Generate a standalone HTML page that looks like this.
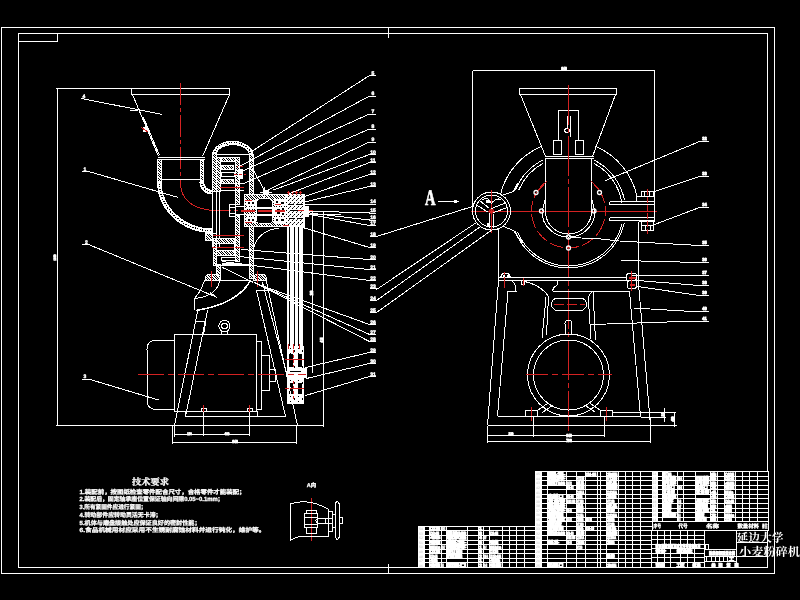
<!DOCTYPE html>
<html lang="zh"><head><meta charset="utf-8"><title>小麦粉碎机</title>
<style>
html,body{margin:0;padding:0;background:#000;width:800px;height:600px;overflow:hidden}
svg{display:block;will-change:transform;transform:translateZ(0)}
text{white-space:pre}
</style></head><body>
<svg width="800" height="600" viewBox="0 0 800 600" shape-rendering="crispEdges" text-rendering="geometricPrecision">
<defs>
<pattern id="h" width="5" height="5" patternUnits="userSpaceOnUse" patternTransform="translate(-.5 -.5)"><rect width="5" height="5" fill="#fff"/><rect x="0" y="0" width="1" height="1" fill="#000"/><rect x="3" y="0" width="1" height="1" fill="#000"/><rect x="1" y="1" width="1" height="1" fill="#000"/><rect x="4" y="1" width="1" height="1" fill="#000"/><rect x="0" y="2" width="1" height="1" fill="#000"/><rect x="2" y="2" width="1" height="1" fill="#000"/><rect x="1" y="3" width="1" height="1" fill="#000"/><rect x="3" y="3" width="1" height="1" fill="#000"/><rect x="2" y="4" width="1" height="1" fill="#000"/><rect x="4" y="4" width="1" height="1" fill="#000"/></pattern>
<pattern id="d" width="4" height="4" patternUnits="userSpaceOnUse" patternTransform="translate(-.5 -.5)"><rect width="4" height="4" fill="#fff"/><rect x="0" y="0" width="1" height="1" fill="#000"/><rect x="2" y="2" width="1" height="1" fill="#000"/><rect x="1" y="3" width="1" height="1" fill="#555"/></pattern>
</defs>
<rect width="800" height="600" fill="#000"/>
<g transform="translate(.5 .5)">
<rect x="1" y="27" width="773" height="546" fill="none" stroke="#fff" stroke-width="1" rx="0"/>
<rect x="18" y="33" width="749" height="534" fill="none" stroke="#fff" stroke-width="1" rx="0"/>
<rect x="18" y="33" width="39" height="8" fill="none" stroke="#fff" stroke-width="1" rx="0"/>
<line x1="388" y1="27" x2="388" y2="37" stroke="#fff" stroke-width="1" />
<line x1="388" y1="563" x2="388" y2="573" stroke="#fff" stroke-width="1" />
<line x1="57" y1="88" x2="57" y2="425" stroke="#fff" stroke-width="1" />
<line x1="55" y1="88" x2="131" y2="88" stroke="#fff" stroke-width="1" />
<line x1="55" y1="425" x2="175" y2="425" stroke="#fff" stroke-width="1" />
<text x="55.5" y="257" font-size="3.4" font-family='"Liberation Sans","Noto Sans CJK SC",sans-serif' font-weight="bold" text-anchor="middle" fill="#fff" textLength="6" lengthAdjust="spacingAndGlyphs" stroke="#fff" stroke-width="0.85" transform="rotate(-90 55.5 257)">1050</text>
<rect x="131" y="88" width="98" height="6" fill="none" stroke="#fff" stroke-width="1" rx="0"/>
<line x1="132" y1="94" x2="158" y2="156" stroke="#fff" stroke-width="1" />
<line x1="229" y1="94" x2="202" y2="156" stroke="#fff" stroke-width="1" />
<line x1="142" y1="117" x2="158" y2="156" stroke="#fff" stroke-width="1" />
<line x1="143" y1="117" x2="159" y2="155" stroke="#fff" stroke-width="1" />
<line x1="81" y1="98" x2="162" y2="114" stroke="#fff" stroke-width="1" />
<line x1="129" y1="110" x2="137" y2="110" stroke="#fff" stroke-width="1" />
<text x="83.5" y="97.5" font-size="5" font-family='"Liberation Sans","Noto Sans CJK SC",sans-serif' font-weight="bold" text-anchor="middle" fill="#fff" stroke="#fff" stroke-width="0.4">4</text>
<rect x="142" y="126" width="5" height="5" fill="#fff"/>
<line x1="141" y1="127" x2="148" y2="132" stroke="#d42222" stroke-width="1" />
<line x1="180" y1="82" x2="180" y2="183" stroke="#d42222" stroke-width="1" stroke-dasharray="22 3 4 3"/>
<path d="M180,183 Q181,207 212,210" fill="none" stroke="#d42222" stroke-width="1" />
<line x1="212" y1="210" x2="312" y2="210" stroke="#d42222" stroke-width="1" stroke-dasharray="18 3 4 3"/>
<line x1="157" y1="157" x2="204" y2="157" stroke="#fff" stroke-width="1" />
<line x1="157" y1="159" x2="204" y2="159" stroke="#fff" stroke-width="1" />
<rect x="157" y="159" width="3.5" height="22" fill="url(#h)" stroke="#fff" stroke-width="1"/>
<rect x="199.5" y="159" width="3.5" height="22" fill="url(#h)" stroke="#fff" stroke-width="1"/>
<line x1="161" y1="179" x2="199" y2="179" stroke="#fff" stroke-width="1" />
<path d="M158.8,181 A53.2,49.2 0 0 0 212,230.2" fill="none" stroke="#fff" stroke-width="3" />
<path d="M158.8,181 A53.2,49.2 0 0 0 212,230.2" fill="none" stroke="#000" stroke-width="1.4" stroke-dasharray="1 1.5"/>
<path d="M157,181 A55,51 0 0 0 212,232" fill="none" stroke="#fff" stroke-width="1" />
<path d="M160.6,181 A51.4,47.4 0 0 0 212,228.4" fill="none" stroke="#fff" stroke-width="1" />
<path d="M201.2,181 A10.8,10.8 0 0 0 212,191.8" fill="none" stroke="#fff" stroke-width="3" />
<path d="M201.2,181 A10.8,10.8 0 0 0 212,191.8" fill="none" stroke="#000" stroke-width="1.4" stroke-dasharray="1 1.5"/>
<path d="M203,181 A9,9 0 0 0 212,190" fill="none" stroke="#fff" stroke-width="1" />
<path d="M199.4,181 A12.6,12.6 0 0 0 212,193.6" fill="none" stroke="#fff" stroke-width="1" />
<rect x="212" y="154" width="4" height="37" fill="url(#h)" stroke="#fff" stroke-width="1"/>
<line x1="212" y1="191" x2="212" y2="246" stroke="#fff" stroke-width="1" />
<line x1="216" y1="191" x2="216" y2="246" stroke="#fff" stroke-width="1" />
<line x1="219" y1="160" x2="219" y2="246" stroke="#fff" stroke-width="1" />
<rect x="213" y="238" width="3" height="27" fill="url(#h)" stroke="#fff" stroke-width="1"/>
<rect x="216" y="264" width="3.5" height="15" fill="url(#h)" stroke="#fff" stroke-width="1"/>
<rect x="249" y="154" width="3.5" height="41" fill="url(#h)" stroke="#fff" stroke-width="1"/>
<rect x="249" y="226" width="3.5" height="52" fill="url(#h)" stroke="#fff" stroke-width="1"/>
<path d="M214,154 A18,12.2 0 0 1 250,154" fill="none" stroke="#fff" stroke-width="3" />
<path d="M214,154 A18,12.2 0 0 1 250,154" fill="none" stroke="#000" stroke-width="1.6" stroke-dasharray="1 1.5"/>
<path d="M212,154 A20.3,14 0 0 1 252.5,154" fill="none" stroke="#fff" stroke-width="1" />
<path d="M215.5,154 A16.8,10.8 0 0 1 249,154" fill="none" stroke="#fff" stroke-width="1" />
<line x1="216" y1="154" x2="248" y2="154" stroke="#fff" stroke-width="1" />
<rect x="216" y="157" width="4" height="34" fill="url(#h)" stroke="#fff" stroke-width="1"/>
<rect x="221" y="157" width="16" height="4" fill="url(#h)" stroke="#fff" stroke-width="1"/>
<rect x="235" y="157" width="4" height="47" fill="url(#h)" stroke="#fff" stroke-width="1"/>
<rect x="221" y="165" width="12" height="4" fill="url(#h)" stroke="#fff" stroke-width="1"/>
<rect x="221" y="172" width="13" height="4" fill="none" stroke="#fff" stroke-width="1" rx="0"/>
<rect x="221" y="179" width="12" height="4" fill="url(#h)" stroke="#fff" stroke-width="1"/>
<line x1="220" y1="183" x2="243" y2="183" stroke="#fff" stroke-width="1" />
<line x1="220" y1="190" x2="243" y2="190" stroke="#fff" stroke-width="1" />
<line x1="219" y1="187" x2="243" y2="187" stroke="#d42222" stroke-width="1" />
<rect x="237" y="168" width="5" height="10" fill="#fff"/>
<line x1="236" y1="166" x2="242" y2="166" stroke="#d42222" stroke-width="1" />
<line x1="233" y1="174" x2="245" y2="174" stroke="#d42222" stroke-width="1" stroke-dasharray="3 2"/>
<rect x="229" y="204" width="6" height="12" fill="none" stroke="#fff" stroke-width="1" rx="0"/>
<line x1="229" y1="207" x2="235" y2="207" stroke="#fff" stroke-width="1" />
<line x1="229" y1="213" x2="235" y2="213" stroke="#fff" stroke-width="1" />
<line x1="235" y1="206" x2="296" y2="206" stroke="#fff" stroke-width="1" />
<line x1="235" y1="214" x2="296" y2="214" stroke="#fff" stroke-width="1" />
<rect x="235" y="215" width="4" height="46" fill="url(#h)" stroke="#fff" stroke-width="1"/>
<line x1="211" y1="235" x2="243" y2="235" stroke="#d42222" stroke-width="1" />
<line x1="211" y1="247" x2="243" y2="247" stroke="#d42222" stroke-width="1" />
<rect x="216" y="238" width="18" height="5" fill="url(#h)" stroke="#fff" stroke-width="1"/>
<rect x="216" y="250" width="18" height="5" fill="url(#h)" stroke="#fff" stroke-width="1"/>
<rect x="216" y="243" width="18" height="7" fill="none" stroke="#fff" stroke-width="1" rx="0"/>
<rect x="221" y="262" width="20" height="3" fill="#fff"/>
<rect x="221" y="257" width="14" height="3" fill="none" stroke="#fff" stroke-width="1" rx="0"/>
<line x1="205" y1="233" x2="216" y2="233" stroke="#fff" stroke-width="1" />
<line x1="205" y1="240" x2="216" y2="240" stroke="#fff" stroke-width="1" />
<rect x="205" y="233" width="7" height="7" fill="url(#h)" stroke="#fff" stroke-width="1"/>
<line x1="213" y1="265" x2="249" y2="265" stroke="#fff" stroke-width="1" />
<rect x="244" y="194" width="41" height="32" fill="url(#h)" stroke="#fff" stroke-width="1"/>
<rect x="256" y="198" width="16" height="25" fill="#000" stroke="#fff" stroke-width="1" rx="4"/>
<rect x="245" y="199" width="10" height="6" fill="#fff"/>
<rect x="245" y="216" width="10" height="6" fill="#fff"/>
<rect x="273" y="198" width="12" height="7" fill="#fff"/>
<rect x="273" y="216" width="12" height="7" fill="#fff"/>
<rect x="247" y="201" width="2" height="2" fill="#000"/>
<rect x="251" y="201" width="2" height="2" fill="#000"/>
<rect x="247" y="218" width="2" height="2" fill="#000"/>
<rect x="251" y="218" width="2" height="2" fill="#000"/>
<rect x="275" y="200" width="2" height="2" fill="#000"/>
<rect x="280" y="201" width="3" height="2" fill="#000"/>
<rect x="275" y="218" width="2" height="2" fill="#000"/>
<rect x="280" y="218" width="3" height="2" fill="#000"/>
<rect x="245" y="206" width="50" height="2" fill="#fff"/>
<rect x="245" y="213" width="50" height="2" fill="#fff"/>
<rect x="272" y="206" width="13" height="9" fill="#fff"/>
<rect x="276" y="208" width="3" height="5" fill="#000"/>
<rect x="281" y="207" width="2" height="2" fill="#000"/>
<rect x="281" y="212" width="2" height="2" fill="#000"/>
<line x1="240" y1="210" x2="300" y2="210" stroke="#d42222" stroke-width="2" stroke-dasharray="14 3"/>
<rect x="285" y="194" width="19" height="32" fill="url(#d)" stroke="#fff"/>
<rect x="287" y="203" width="6" height="1" fill="#000"/>
<rect x="296" y="203" width="6" height="1" fill="#000"/>
<rect x="288" y="217" width="5" height="1" fill="#000"/>
<rect x="296" y="217" width="6" height="1" fill="#000"/>
<rect x="289" y="209" width="10" height="1" fill="#000"/>
<rect x="304" y="205" width="4" height="11" fill="#fff"/>
<line x1="288" y1="190" x2="288" y2="194" stroke="#d42222" stroke-width="1" />
<line x1="286.5" y1="192" x2="289.5" y2="192" stroke="#d42222" stroke-width="1" />
<line x1="292" y1="190" x2="292" y2="194" stroke="#d42222" stroke-width="1" />
<line x1="290.5" y1="192" x2="293.5" y2="192" stroke="#d42222" stroke-width="1" />
<line x1="296" y1="190" x2="296" y2="194" stroke="#d42222" stroke-width="1" />
<line x1="294.5" y1="192" x2="297.5" y2="192" stroke="#d42222" stroke-width="1" />
<line x1="300" y1="190" x2="300" y2="194" stroke="#d42222" stroke-width="1" />
<line x1="298.5" y1="192" x2="301.5" y2="192" stroke="#d42222" stroke-width="1" />
<rect x="262" y="189" width="6" height="5" fill="#fff"/>
<line x1="259" y1="192" x2="271" y2="192" stroke="#fff" stroke-width="1" />
<line x1="264" y1="186" x2="264" y2="198" stroke="#fff" stroke-width="1" />
<line x1="244" y1="200" x2="251" y2="200" stroke="#d42222" stroke-width="1" />
<line x1="244" y1="222" x2="251" y2="222" stroke="#d42222" stroke-width="1" />
<line x1="274" y1="204" x2="280" y2="204" stroke="#d42222" stroke-width="1" />
<line x1="282" y1="225" x2="288" y2="225" stroke="#d42222" stroke-width="1" />
<line x1="297" y1="210" x2="303" y2="210" stroke="#d42222" stroke-width="1" />
<path d="M253,248 A26,26 0 0 1 279,228" fill="none" stroke="#fff" stroke-width="1" />
<line x1="287" y1="226" x2="287" y2="346" stroke="#fff" stroke-width="1" />
<line x1="288" y1="226" x2="288" y2="346" stroke="#fff" stroke-width="1" />
<line x1="290" y1="226" x2="290" y2="346" stroke="#fff" stroke-width="1" />
<line x1="291" y1="226" x2="291" y2="346" stroke="#fff" stroke-width="1" />
<line x1="292" y1="226" x2="292" y2="346" stroke="#fff" stroke-width="1" />
<line x1="293" y1="226" x2="293" y2="346" stroke="#fff" stroke-width="1" />
<line x1="295" y1="226" x2="295" y2="346" stroke="#fff" stroke-width="1" />
<line x1="296" y1="226" x2="296" y2="346" stroke="#fff" stroke-width="1" />
<line x1="297" y1="226" x2="297" y2="346" stroke="#fff" stroke-width="1" />
<line x1="299" y1="226" x2="299" y2="346" stroke="#fff" stroke-width="1" />
<line x1="300" y1="226" x2="300" y2="346" stroke="#fff" stroke-width="1" />
<line x1="301" y1="226" x2="301" y2="346" stroke="#fff" stroke-width="1" />
<line x1="302" y1="226" x2="302" y2="346" stroke="#fff" stroke-width="1" />
<line x1="312" y1="211" x2="312" y2="372" stroke="#fff" stroke-width="1" />
<line x1="323" y1="211" x2="323" y2="426" stroke="#fff" stroke-width="1" />
<line x1="304" y1="211" x2="323" y2="211" stroke="#fff" stroke-width="1" />
<line x1="304" y1="214" x2="340" y2="214" stroke="#fff" stroke-width="1" />
<text x="312.5" y="292.5" font-size="4.4" font-family='"Liberation Sans","Noto Sans CJK SC",sans-serif' font-weight="bold" text-anchor="middle" fill="#fff" textLength="5" lengthAdjust="spacingAndGlyphs" stroke="#fff" stroke-width="0.85" transform="rotate(-90 312.5 292.5)">160</text>
<text x="322.5" y="339.5" font-size="4.2" font-family='"Liberation Sans","Noto Sans CJK SC",sans-serif' font-weight="bold" text-anchor="middle" fill="#fff" textLength="5" lengthAdjust="spacingAndGlyphs" stroke="#fff" stroke-width="0.85" transform="rotate(-90 322.5 339.5)">415</text>
<rect x="286" y="345" width="17" height="58" fill="#fff"/>
<rect x="289" y="347" width="1.5" height="1.5" fill="#000"/>
<rect x="289" y="352" width="1.5" height="1.5" fill="#000"/>
<rect x="293" y="349" width="1.5" height="1.5" fill="#000"/>
<rect x="293" y="350" width="1.5" height="1.5" fill="#000"/>
<rect x="297" y="347" width="1.5" height="1.5" fill="#000"/>
<rect x="297" y="352" width="1.5" height="1.5" fill="#000"/>
<rect x="301" y="349" width="1.5" height="1.5" fill="#000"/>
<rect x="301" y="350" width="1.5" height="1.5" fill="#000"/>
<rect x="289" y="363" width="1.5" height="1.5" fill="#000"/>
<rect x="289" y="368" width="1.5" height="1.5" fill="#000"/>
<rect x="293" y="365" width="1.5" height="1.5" fill="#000"/>
<rect x="293" y="366" width="1.5" height="1.5" fill="#000"/>
<rect x="297" y="363" width="1.5" height="1.5" fill="#000"/>
<rect x="297" y="368" width="1.5" height="1.5" fill="#000"/>
<rect x="301" y="365" width="1.5" height="1.5" fill="#000"/>
<rect x="301" y="366" width="1.5" height="1.5" fill="#000"/>
<rect x="289" y="379" width="1.5" height="1.5" fill="#000"/>
<rect x="289" y="384" width="1.5" height="1.5" fill="#000"/>
<rect x="293" y="381" width="1.5" height="1.5" fill="#000"/>
<rect x="293" y="382" width="1.5" height="1.5" fill="#000"/>
<rect x="297" y="379" width="1.5" height="1.5" fill="#000"/>
<rect x="297" y="384" width="1.5" height="1.5" fill="#000"/>
<rect x="301" y="381" width="1.5" height="1.5" fill="#000"/>
<rect x="301" y="382" width="1.5" height="1.5" fill="#000"/>
<rect x="289" y="395" width="1.5" height="1.5" fill="#000"/>
<rect x="289" y="400" width="1.5" height="1.5" fill="#000"/>
<rect x="293" y="397" width="1.5" height="1.5" fill="#000"/>
<rect x="293" y="398" width="1.5" height="1.5" fill="#000"/>
<rect x="297" y="395" width="1.5" height="1.5" fill="#000"/>
<rect x="297" y="400" width="1.5" height="1.5" fill="#000"/>
<rect x="301" y="397" width="1.5" height="1.5" fill="#000"/>
<rect x="301" y="398" width="1.5" height="1.5" fill="#000"/>
<rect x="288" y="353" width="4.5" height="13" fill="#000"/>
<rect x="297" y="353" width="4.5" height="13" fill="#000"/>
<rect x="288" y="382" width="4.5" height="11" fill="#000"/>
<rect x="297" y="382" width="4.5" height="11" fill="#000"/>
<rect x="286" y="367" width="20" height="10" fill="#fff"/>
<rect x="289" y="370" width="11" height="1" fill="#000"/>
<line x1="284" y1="359" x2="303" y2="359" stroke="#d42222" stroke-width="1" />
<line x1="284" y1="388" x2="303" y2="388" stroke="#d42222" stroke-width="1" />
<line x1="298" y1="374" x2="304" y2="374" stroke="#d42222" stroke-width="1" />
<line x1="293" y1="349" x2="293" y2="366" stroke="#d42222" stroke-width="1" stroke-dasharray="3 2"/>
<line x1="293" y1="380" x2="293" y2="398" stroke="#d42222" stroke-width="1" stroke-dasharray="3 2"/>
<line x1="288" y1="343" x2="288" y2="348" stroke="#d42222" stroke-width="1" />
<line x1="293" y1="343" x2="293" y2="348" stroke="#d42222" stroke-width="1" />
<line x1="299" y1="343" x2="299" y2="348" stroke="#d42222" stroke-width="1" />
<polygon points="204.5,280 204.5,277 207,274 217,274 218.5,277 218.5,280" fill="url(#h)" stroke="#fff" stroke-width="1" />
<polygon points="253,280 253,277 255,274 264,274 266,277 266,280" fill="url(#h)" stroke="#fff" stroke-width="1" />
<line x1="204" y1="280" x2="250" y2="280" stroke="#fff" stroke-width="1" />
<line x1="211" y1="270" x2="211" y2="286" stroke="#d42222" stroke-width="1" />
<line x1="257" y1="270" x2="257" y2="286" stroke="#d42222" stroke-width="1" />
<polyline points="204,280 200,290 194,298 194,309" fill="none" stroke="#fff" stroke-width="1" />
<path d="M250,280 C240,298 220,306 196,310" fill="none" stroke="#fff" stroke-width="1.6" />
<path d="M219,281 C217,290 210,296 195,298" fill="none" stroke="#fff" stroke-width="1" />
<line x1="210" y1="292" x2="217" y2="298" stroke="#fff" stroke-width="1" />
<line x1="197" y1="311" x2="174" y2="425" stroke="#fff" stroke-width="1" />
<line x1="207" y1="310" x2="185" y2="416" stroke="#fff" stroke-width="1" />
<line x1="205" y1="322" x2="203" y2="335" stroke="#fff" stroke-width="1" />
<line x1="195" y1="321" x2="205" y2="321" stroke="#fff" stroke-width="1" />
<line x1="256" y1="290" x2="285" y2="416" stroke="#fff" stroke-width="1" />
<line x1="266" y1="281" x2="297" y2="425" stroke="#fff" stroke-width="1" />
<line x1="262" y1="282" x2="290" y2="388" stroke="#fff" stroke-width="1" />
<line x1="256" y1="290" x2="267" y2="290" stroke="#fff" stroke-width="1" />
<rect x="174" y="334" width="82" height="77" fill="none" stroke="#fff" stroke-width="1" rx="0"/>
<path d="M174,339.5 H156 Q146.5,339.5 146.5,349 V400 Q146.5,409 156,409 H174" fill="none" stroke="#fff" stroke-width="1" />
<rect x="256" y="341" width="5" height="68" fill="none" stroke="#fff" stroke-width="1" rx="0"/>
<rect x="261" y="355" width="8" height="35" fill="none" stroke="#fff" stroke-width="1" rx="0"/>
<rect x="269" y="369" width="6" height="12" fill="none" stroke="#fff" stroke-width="1" rx="0"/>
<circle cx="224" cy="325.5" r="5.6" fill="none" stroke="#fff" stroke-width="1" />
<circle cx="224" cy="325.5" r="2.8" fill="none" stroke="#fff" stroke-width="1" />
<rect x="221" y="331" width="6" height="3" fill="none" stroke="#fff" stroke-width="1" rx="0"/>
<line x1="137" y1="374" x2="305" y2="374" stroke="#d42222" stroke-width="1" stroke-dasharray="26 4 6 4"/>
<rect x="185" y="411" width="72" height="5" fill="none" stroke="#fff" stroke-width="1" rx="0"/>
<line x1="185" y1="416" x2="285" y2="416" stroke="#fff" stroke-width="1" />
<rect x="201" y="408" width="5" height="3" fill="none" stroke="#fff" stroke-width="1" rx="0"/>
<rect x="247" y="408" width="5" height="3" fill="none" stroke="#fff" stroke-width="1" rx="0"/>
<line x1="203" y1="404" x2="203" y2="414" stroke="#d42222" stroke-width="1" />
<line x1="249" y1="404" x2="249" y2="414" stroke="#d42222" stroke-width="1" />
<line x1="174" y1="425" x2="323" y2="425" stroke="#fff" stroke-width="1" />
<line x1="174" y1="425" x2="174" y2="436" stroke="#fff" stroke-width="1" />
<line x1="172" y1="424" x2="172" y2="443" stroke="#fff" stroke-width="1" />
<line x1="296" y1="425" x2="296" y2="443" stroke="#fff" stroke-width="1" />
<line x1="203" y1="411" x2="203" y2="435" stroke="#fff" stroke-width="1" />
<line x1="249" y1="411" x2="249" y2="435" stroke="#fff" stroke-width="1" />
<line x1="174" y1="434" x2="249" y2="434" stroke="#fff" stroke-width="1" />
<line x1="172" y1="442" x2="296" y2="442" stroke="#fff" stroke-width="1" />
<text x="189" y="434" font-size="3.8" font-family='"Liberation Sans","Noto Sans CJK SC",sans-serif' font-weight="bold" text-anchor="middle" fill="#fff" textLength="4.5" lengthAdjust="spacingAndGlyphs" stroke="#fff" stroke-width="0.85">190</text>
<text x="226.5" y="434" font-size="3.8" font-family='"Liberation Sans","Noto Sans CJK SC",sans-serif' font-weight="bold" text-anchor="middle" fill="#fff" textLength="5" lengthAdjust="spacingAndGlyphs" stroke="#fff" stroke-width="0.85">400</text>
<text x="234.5" y="442.5" font-size="4.4" font-family='"Liberation Sans","Noto Sans CJK SC",sans-serif' font-weight="bold" text-anchor="middle" fill="#fff" textLength="5.5" lengthAdjust="spacingAndGlyphs" stroke="#fff" stroke-width="0.85">640</text>
<polyline points="81,171 88,171 178,197" fill="none" stroke="#fff" stroke-width="1" />
<text x="84.5" y="170" font-size="5" font-family='"Liberation Sans","Noto Sans CJK SC",sans-serif' font-weight="bold" text-anchor="middle" fill="#fff" stroke="#fff" stroke-width="0.4">1</text>
<polyline points="81,244 88,244 217,297" fill="none" stroke="#fff" stroke-width="1" />
<text x="86" y="243" font-size="5" font-family='"Liberation Sans","Noto Sans CJK SC",sans-serif' font-weight="bold" text-anchor="middle" fill="#fff" stroke="#fff" stroke-width="0.4">2</text>
<polyline points="81,378.5 88,378.5 158,399.5" fill="none" stroke="#fff" stroke-width="1" />
<text x="84.5" y="377.5" font-size="5" font-family='"Liberation Sans","Noto Sans CJK SC",sans-serif' font-weight="bold" text-anchor="middle" fill="#fff" stroke="#fff" stroke-width="0.4">3</text>
<line x1="472" y1="70" x2="654" y2="70" stroke="#fff" stroke-width="1" />
<line x1="472" y1="70" x2="472" y2="206" stroke="#fff" stroke-width="1" />
<line x1="654" y1="70" x2="654" y2="196" stroke="#fff" stroke-width="1" />
<text x="563.5" y="69.5" font-size="4.4" font-family='"Liberation Sans","Noto Sans CJK SC",sans-serif' font-weight="bold" text-anchor="middle" fill="#fff" textLength="5.5" lengthAdjust="spacingAndGlyphs" stroke="#fff" stroke-width="0.85">940</text>
<rect x="519" y="88" width="97" height="6" fill="none" stroke="#fff" stroke-width="1" rx="0"/>
<line x1="520" y1="94" x2="545" y2="156" stroke="#fff" stroke-width="1" />
<line x1="615" y1="94" x2="592" y2="156" stroke="#fff" stroke-width="1" />
<line x1="544" y1="156" x2="593" y2="156" stroke="#fff" stroke-width="1" />
<line x1="544" y1="158" x2="593" y2="158" stroke="#fff" stroke-width="1" />
<line x1="545" y1="158" x2="545" y2="205" stroke="#fff" stroke-width="1" />
<line x1="591" y1="158" x2="591" y2="205" stroke="#fff" stroke-width="1" />
<polyline points="558,139 558,110 578,110 578,139" fill="none" stroke="#fff" stroke-width="1" />
<line x1="567" y1="115" x2="567" y2="127" stroke="#fff" stroke-width="1" />
<line x1="570" y1="115" x2="570" y2="136" stroke="#fff" stroke-width="1" />
<circle cx="566.5" cy="130" r="2.2" fill="none" stroke="#fff" stroke-width="1" />
<rect x="553" y="140" width="8" height="14" fill="none" stroke="#fff" stroke-width="1" rx="0"/>
<rect x="575" y="140" width="8" height="14" fill="none" stroke="#fff" stroke-width="1" rx="0"/>
<line x1="568" y1="84" x2="568" y2="430" stroke="#d42222" stroke-width="1" stroke-dasharray="40 3 5 3"/>
<line x1="470" y1="210.5" x2="656" y2="210.5" stroke="#d42222" stroke-width="1" />
<path d="M500.08,193.57 A70,70 0 0 1 541.21,145.83" fill="none" stroke="#fff" stroke-width="1" />
<path d="M594.79,145.83 A70,70 0 0 1 636.47,195.95" fill="none" stroke="#fff" stroke-width="1" />
<path d="M515.15,189.15 A57,57 0 0 1 543.01,159.27" fill="none" stroke="#fff" stroke-width="1" />
<path d="M518.29,189.40 A54,54 0 0 1 542.65,162.82" fill="none" stroke="#fff" stroke-width="1" />
<path d="M592.99,159.27 A57,57 0 0 1 623.95,199.62" fill="none" stroke="#fff" stroke-width="1" />
<path d="M593.35,162.82 A54,54 0 0 1 621.34,202.05" fill="none" stroke="#fff" stroke-width="1" />
<path d="M621.37,223.81 A55,55 0 0 1 517.00,231.10" fill="none" stroke="#fff" stroke-width="1" />
<path d="M623.75,222.35 A57,57 0 0 1 514.44,230.00" fill="none" stroke="#fff" stroke-width="1" />
<path d="M545,205 V211 A23,22.5 0 0 0 591,211 V205" fill="none" stroke="#fff" stroke-width="1" />
<path d="M541.5,211 A26.5,25.5 0 0 0 594.5,211" fill="none" stroke="#fff" stroke-width="1" />
<line x1="541.5" y1="211" x2="545" y2="198" stroke="#fff" stroke-width="1" />
<line x1="594.5" y1="211" x2="591" y2="198" stroke="#fff" stroke-width="1" />
<path d="M602.77,223.15 A37,37 0 0 1 533.23,223.15" fill="none" stroke="#d42222" stroke-width="1" stroke-dasharray="14 3"/>
<path d="M533.23,223.15 A37,37 0 0 1 543.24,183.00" fill="none" stroke="#d42222" stroke-width="1" stroke-dasharray="10 3"/>
<path d="M592.76,183.00 A37,37 0 0 1 602.77,223.15" fill="none" stroke="#d42222" stroke-width="1" stroke-dasharray="10 3"/>
<line x1="536" y1="192" x2="546" y2="181" stroke="#d42222" stroke-width="1" />
<line x1="601" y1="192" x2="591" y2="181" stroke="#d42222" stroke-width="1" />
<circle cx="535.5" cy="192" r="2" fill="none" stroke="#fff" stroke-width="1.3" shape-rendering="geometricPrecision"/>
<circle cx="599" cy="192" r="2" fill="none" stroke="#fff" stroke-width="1.3" shape-rendering="geometricPrecision"/>
<circle cx="541" cy="210.5" r="2" fill="none" stroke="#fff" stroke-width="1.3" shape-rendering="geometricPrecision"/>
<circle cx="593.5" cy="210.5" r="2" fill="none" stroke="#fff" stroke-width="1.3" shape-rendering="geometricPrecision"/>
<circle cx="568" cy="236.5" r="2" fill="none" stroke="#fff" stroke-width="1.3" shape-rendering="geometricPrecision"/>
<circle cx="568" cy="247.5" r="2" fill="none" stroke="#fff" stroke-width="1.3" shape-rendering="geometricPrecision"/>
<line x1="571" y1="237" x2="610" y2="239" stroke="#fff" stroke-width="1" />
<circle cx="491" cy="210.5" r="19" fill="none" stroke="#fff" stroke-width="1" />
<circle cx="491" cy="210.5" r="16" fill="none" stroke="#fff" stroke-width="1" />
<circle cx="491" cy="210.5" r="1.8" fill="none" stroke="#d42222" stroke-width="1.5" shape-rendering="geometricPrecision"/>
<line x1="491" y1="189" x2="491" y2="232" stroke="#d42222" stroke-width="1" />
<line x1="491" y1="208" x2="506" y2="202" stroke="#fff" stroke-width="1" />
<line x1="493" y1="212" x2="507" y2="207" stroke="#fff" stroke-width="1" />
<line x1="489" y1="208" x2="479" y2="200" stroke="#fff" stroke-width="1" />
<line x1="488" y1="212" x2="477" y2="205" stroke="#fff" stroke-width="1" />
<line x1="489" y1="212" x2="489" y2="227" stroke="#fff" stroke-width="1" />
<line x1="493" y1="213" x2="493" y2="227" stroke="#fff" stroke-width="1" />
<path d="M482,199 Q488,196 491,203 Q495,197 501,199" fill="none" stroke="#fff" stroke-width="1" />
<rect x="485" y="199" width="4" height="3" fill="#fff"/>
<rect x="486" y="222" width="3" height="4" fill="#fff"/>
<polyline points="501,195 513,191 517,183" fill="none" stroke="#fff" stroke-width="1" />
<polyline points="503,226 513,230 518,237 523,243" fill="none" stroke="#fff" stroke-width="1" />
<line x1="376" y1="236" x2="472" y2="206" stroke="#fff" stroke-width="1" />
<line x1="376" y1="289" x2="476" y2="222" stroke="#fff" stroke-width="1" />
<line x1="376" y1="300" x2="480" y2="226" stroke="#fff" stroke-width="1" />
<line x1="376" y1="312" x2="492" y2="229" stroke="#fff" stroke-width="1" />
<text x="0" y="0" font-size="22" font-family='"Liberation Serif","Noto Serif CJK SC",serif' font-weight="bold" text-anchor="start" fill="#fff" transform="translate(424.5 204.5) scale(.66 1)" stroke="#fff" stroke-width="0.7">A</text>
<line x1="437" y1="201" x2="458" y2="201" stroke="#fff" stroke-width="1" />
<polyline points="454,200 458,201 454,202" fill="none" stroke="#fff" stroke-width="1" />
<line x1="609" y1="201" x2="654" y2="201" stroke="#fff" stroke-width="1" />
<line x1="609" y1="204" x2="654" y2="204" stroke="#fff" stroke-width="1" />
<line x1="609" y1="217" x2="654" y2="217" stroke="#fff" stroke-width="1" />
<line x1="609" y1="220" x2="654" y2="220" stroke="#fff" stroke-width="1" />
<line x1="609" y1="201" x2="609" y2="204" stroke="#fff" stroke-width="1" />
<line x1="609" y1="217" x2="609" y2="220" stroke="#fff" stroke-width="1" />
<line x1="636" y1="196" x2="654" y2="196" stroke="#fff" stroke-width="1" />
<line x1="636" y1="196" x2="636" y2="201" stroke="#fff" stroke-width="1" />
<line x1="654" y1="196" x2="654" y2="221" stroke="#fff" stroke-width="1" />
<line x1="638" y1="221" x2="654" y2="221" stroke="#fff" stroke-width="1" />
<rect x="641" y="191" width="12" height="5" fill="none" stroke="#fff" stroke-width="1" rx="0"/>
<rect x="641" y="221" width="12" height="9" fill="none" stroke="#fff" stroke-width="1" rx="0"/>
<line x1="644" y1="191" x2="644" y2="196" stroke="#fff" stroke-width="1" />
<line x1="649" y1="191" x2="649" y2="196" stroke="#fff" stroke-width="1" />
<line x1="645" y1="225" x2="645" y2="230" stroke="#fff" stroke-width="1" />
<line x1="650" y1="225" x2="650" y2="230" stroke="#fff" stroke-width="1" />
<line x1="641" y1="225" x2="653" y2="225" stroke="#fff" stroke-width="1" />
<line x1="647" y1="188" x2="647" y2="233" stroke="#d42222" stroke-width="1" stroke-dasharray="6 2"/>
<line x1="498" y1="277" x2="627" y2="277" stroke="#fff" stroke-width="1" />
<line x1="498" y1="280" x2="638" y2="280" stroke="#fff" stroke-width="1" />
<line x1="498" y1="277" x2="498" y2="280" stroke="#fff" stroke-width="1" />
<polyline points="500,277 502,273 508,273 510,277" fill="none" stroke="#fff" stroke-width="1" />
<line x1="504" y1="271" x2="504" y2="287" stroke="#d42222" stroke-width="1" />
<rect x="502" y="274" width="2" height="2" fill="#fff"/>
<rect x="506" y="274" width="2" height="2" fill="#fff"/>
<rect x="521" y="280" width="3" height="4" fill="none" stroke="#fff" stroke-width="1" rx="0"/>
<line x1="523" y1="277" x2="523" y2="285" stroke="#d42222" stroke-width="1" />
<rect x="626" y="273" width="10" height="7" fill="#000" stroke="#fff" stroke-width="1" rx="2.5"/>
<rect x="627" y="280" width="9" height="8" fill="#000" stroke="#fff" stroke-width="1" rx="2.5"/>
<line x1="631" y1="270" x2="631" y2="290" stroke="#d42222" stroke-width="1" />
<line x1="628" y1="277" x2="635" y2="277" stroke="#d42222" stroke-width="2" />
<line x1="629" y1="284" x2="634" y2="284" stroke="#d42222" stroke-width="2" />
<line x1="498" y1="228" x2="498" y2="277" stroke="#fff" stroke-width="1" />
<line x1="638" y1="221" x2="638" y2="289" stroke="#fff" stroke-width="1" />
<line x1="498" y1="280" x2="487" y2="425" stroke="#fff" stroke-width="1" />
<line x1="507.5" y1="291" x2="497" y2="416" stroke="#fff" stroke-width="1" />
<line x1="638.5" y1="289" x2="650" y2="425" stroke="#fff" stroke-width="1" />
<line x1="629" y1="291" x2="640" y2="416" stroke="#fff" stroke-width="1" />
<line x1="507" y1="291" x2="516" y2="291" stroke="#fff" stroke-width="1" />
<path d="M512,281 Q516,284 515,291" fill="none" stroke="#fff" stroke-width="1" />
<path d="M524,281 C538,284 546,292 548,296 L546,335" fill="none" stroke="#fff" stroke-width="1" />
<line x1="545.5" y1="297" x2="541.5" y2="338" stroke="#fff" stroke-width="1" />
<path d="M592,291 Q587,295 588,301 L590.5,338" fill="none" stroke="#fff" stroke-width="1" />
<line x1="592.5" y1="291" x2="595" y2="340" stroke="#fff" stroke-width="1" />
<path d="M557,281 Q558,285 553,287 L552,291" fill="none" stroke="#fff" stroke-width="1" />
<line x1="552" y1="291" x2="629" y2="291" stroke="#fff" stroke-width="1" />
<rect x="551" y="297.5" width="35" height="12.5" fill="none" stroke="#fff" stroke-width="1" rx="6.2"/>
<line x1="553" y1="304" x2="584" y2="304" stroke="#d42222" stroke-width="1" stroke-dasharray="10 3"/>
<path d="M564.5,334 V323 Q564.5,319.5 568,319.5 Q571,319.5 571,323 V334" fill="none" stroke="#fff" stroke-width="1" />
<circle cx="568" cy="374.5" r="41" fill="none" stroke="#fff" stroke-width="1" />
<circle cx="568" cy="374.5" r="35" fill="none" stroke="#fff" stroke-width="1" />
<line x1="525" y1="374" x2="611" y2="374" stroke="#d42222" stroke-width="1" stroke-dasharray="22 4 6 4"/>
<rect x="525" y="410" width="12" height="6" fill="none" stroke="#fff" stroke-width="1" rx="0"/>
<rect x="600" y="410" width="12" height="6" fill="none" stroke="#fff" stroke-width="1" rx="0"/>
<line x1="537" y1="410" x2="547" y2="403" stroke="#fff" stroke-width="1" />
<line x1="542" y1="412" x2="552" y2="405" stroke="#fff" stroke-width="1" />
<line x1="600" y1="410" x2="590" y2="403" stroke="#fff" stroke-width="1" />
<line x1="595" y1="412" x2="585" y2="405" stroke="#fff" stroke-width="1" />
<line x1="531" y1="406" x2="531" y2="420" stroke="#d42222" stroke-width="1" />
<line x1="606" y1="406" x2="606" y2="420" stroke="#d42222" stroke-width="1" />
<line x1="497" y1="416" x2="640" y2="416" stroke="#fff" stroke-width="1" />
<line x1="487" y1="425" x2="650" y2="425" stroke="#fff" stroke-width="1" />
<line x1="487" y1="425" x2="487" y2="442" stroke="#fff" stroke-width="1" />
<line x1="650" y1="416" x2="650" y2="442" stroke="#fff" stroke-width="1" />
<line x1="487" y1="435" x2="604" y2="435" stroke="#fff" stroke-width="1" />
<line x1="487" y1="441" x2="650" y2="441" stroke="#fff" stroke-width="1" />
<line x1="533" y1="416" x2="533" y2="436" stroke="#fff" stroke-width="1" />
<line x1="604" y1="416" x2="604" y2="436" stroke="#fff" stroke-width="1" />
<text x="510.5" y="434" font-size="3.8" font-family='"Liberation Sans","Noto Sans CJK SC",sans-serif' font-weight="bold" text-anchor="middle" fill="#fff" textLength="5" lengthAdjust="spacingAndGlyphs" stroke="#fff" stroke-width="0.85">230</text>
<text x="568.5" y="436" font-size="4.4" font-family='"Liberation Sans","Noto Sans CJK SC",sans-serif' font-weight="bold" text-anchor="middle" fill="#fff" textLength="5.5" lengthAdjust="spacingAndGlyphs" stroke="#fff" stroke-width="0.85">640</text>
<text x="568.5" y="441" font-size="4.4" font-family='"Liberation Sans","Noto Sans CJK SC",sans-serif' font-weight="bold" text-anchor="middle" fill="#fff" textLength="5.5" lengthAdjust="spacingAndGlyphs" stroke="#fff" stroke-width="0.85">760</text>
<line x1="612" y1="412" x2="675" y2="412" stroke="#fff" stroke-width="1" />
<line x1="640" y1="417" x2="665" y2="417" stroke="#fff" stroke-width="1" />
<line x1="664" y1="407" x2="664" y2="421" stroke="#fff" stroke-width="1" />
<line x1="674" y1="411" x2="674" y2="426" stroke="#fff" stroke-width="1" />
<line x1="650" y1="425" x2="676" y2="425" stroke="#fff" stroke-width="1" />
<text x="663" y="414" font-size="3.8" font-family='"Liberation Sans","Noto Sans CJK SC",sans-serif' font-weight="bold" text-anchor="middle" fill="#fff" textLength="4" lengthAdjust="spacingAndGlyphs" stroke="#fff" stroke-width="0.85" transform="rotate(-90 663 414)">20</text>
<text x="673" y="418.5" font-size="4" font-family='"Liberation Sans","Noto Sans CJK SC",sans-serif' font-weight="bold" text-anchor="middle" fill="#fff" textLength="5" lengthAdjust="spacingAndGlyphs" stroke="#fff" stroke-width="0.85" transform="rotate(-90 673 418.5)">40</text>
<polyline points="605,180 699,141 708,141" fill="none" stroke="#fff" stroke-width="1" />
<text x="704" y="139.4" font-size="4.4" font-family='"Liberation Sans","Noto Sans CJK SC",sans-serif' font-weight="bold" text-anchor="middle" fill="#fff" textLength="4.5" lengthAdjust="spacingAndGlyphs" stroke="#fff" stroke-width="0.85">32</text>
<polyline points="654,191 699,176 708,176" fill="none" stroke="#fff" stroke-width="1" />
<text x="704" y="174.4" font-size="4.4" font-family='"Liberation Sans","Noto Sans CJK SC",sans-serif' font-weight="bold" text-anchor="middle" fill="#fff" textLength="4.5" lengthAdjust="spacingAndGlyphs" stroke="#fff" stroke-width="0.85">33</text>
<polyline points="654,224 699,207 708,207" fill="none" stroke="#fff" stroke-width="1" />
<text x="704" y="205.4" font-size="4.4" font-family='"Liberation Sans","Noto Sans CJK SC",sans-serif' font-weight="bold" text-anchor="middle" fill="#fff" textLength="4.5" lengthAdjust="spacingAndGlyphs" stroke="#fff" stroke-width="0.85">34</text>
<polyline points="610,240 699,245 708,245" fill="none" stroke="#fff" stroke-width="1" />
<text x="704" y="243.4" font-size="4.4" font-family='"Liberation Sans","Noto Sans CJK SC",sans-serif' font-weight="bold" text-anchor="middle" fill="#fff" textLength="4.5" lengthAdjust="spacingAndGlyphs" stroke="#fff" stroke-width="0.85">35</text>
<polyline points="621,260 699,262 708,262" fill="none" stroke="#fff" stroke-width="1" />
<text x="704" y="260.4" font-size="4.4" font-family='"Liberation Sans","Noto Sans CJK SC",sans-serif' font-weight="bold" text-anchor="middle" fill="#fff" textLength="4.5" lengthAdjust="spacingAndGlyphs" stroke="#fff" stroke-width="0.85">36</text>
<polyline points="631,275 699,275 708,275" fill="none" stroke="#fff" stroke-width="1" />
<text x="704" y="273.4" font-size="4.4" font-family='"Liberation Sans","Noto Sans CJK SC",sans-serif' font-weight="bold" text-anchor="middle" fill="#fff" textLength="4.5" lengthAdjust="spacingAndGlyphs" stroke="#fff" stroke-width="0.85">37</text>
<polyline points="637,280 699,285 708,285" fill="none" stroke="#fff" stroke-width="1" />
<text x="704" y="283.4" font-size="4.4" font-family='"Liberation Sans","Noto Sans CJK SC",sans-serif' font-weight="bold" text-anchor="middle" fill="#fff" textLength="4.5" lengthAdjust="spacingAndGlyphs" stroke="#fff" stroke-width="0.85">38</text>
<polyline points="637,286 699,295 708,295" fill="none" stroke="#fff" stroke-width="1" />
<text x="704" y="293.4" font-size="4.4" font-family='"Liberation Sans","Noto Sans CJK SC",sans-serif' font-weight="bold" text-anchor="middle" fill="#fff" textLength="4.5" lengthAdjust="spacingAndGlyphs" stroke="#fff" stroke-width="0.85">39</text>
<polyline points="633,307.5 692,311 708,311" fill="none" stroke="#fff" stroke-width="1" />
<text x="704" y="309.4" font-size="4.4" font-family='"Liberation Sans","Noto Sans CJK SC",sans-serif' font-weight="bold" text-anchor="middle" fill="#fff" textLength="4.5" lengthAdjust="spacingAndGlyphs" stroke="#fff" stroke-width="0.85">40</text>
<polyline points="591,324 682,321 708,321" fill="none" stroke="#fff" stroke-width="1" />
<text x="704" y="319.4" font-size="4.4" font-family='"Liberation Sans","Noto Sans CJK SC",sans-serif' font-weight="bold" text-anchor="middle" fill="#fff" textLength="4.5" lengthAdjust="spacingAndGlyphs" stroke="#fff" stroke-width="0.85">41</text>
<polyline points="251,151 369,75 375,75" fill="none" stroke="#fff" stroke-width="1" />
<text x="372.5" y="74" font-size="5" font-family='"Liberation Sans","Noto Sans CJK SC",sans-serif' font-weight="bold" text-anchor="middle" fill="#fff" stroke="#fff" stroke-width="0.5">5</text>
<polyline points="238,166.5 369,95.5 375,95.5" fill="none" stroke="#fff" stroke-width="1" />
<text x="372.5" y="94.5" font-size="5" font-family='"Liberation Sans","Noto Sans CJK SC",sans-serif' font-weight="bold" text-anchor="middle" fill="#fff" stroke="#fff" stroke-width="0.5">6</text>
<polyline points="240,171.5 369,113.5 375,113.5" fill="none" stroke="#fff" stroke-width="1" />
<text x="372.5" y="112.5" font-size="5" font-family='"Liberation Sans","Noto Sans CJK SC",sans-serif' font-weight="bold" text-anchor="middle" fill="#fff" stroke="#fff" stroke-width="0.5">7</text>
<polyline points="243,183 369,128.5 375,128.5" fill="none" stroke="#fff" stroke-width="1" />
<text x="372.5" y="127.5" font-size="5" font-family='"Liberation Sans","Noto Sans CJK SC",sans-serif' font-weight="bold" text-anchor="middle" fill="#fff" stroke="#fff" stroke-width="0.5">8</text>
<polyline points="264,191 369,141.5 375,141.5" fill="none" stroke="#fff" stroke-width="1" />
<text x="372.5" y="140.5" font-size="5" font-family='"Liberation Sans","Noto Sans CJK SC",sans-serif' font-weight="bold" text-anchor="middle" fill="#fff" stroke="#fff" stroke-width="0.5">9</text>
<polyline points="273,189.5 369,154 375,154" fill="none" stroke="#fff" stroke-width="1" />
<text x="372.5" y="153" font-size="5" font-family='"Liberation Sans","Noto Sans CJK SC",sans-serif' font-weight="bold" text-anchor="middle" fill="#fff" stroke="#fff" stroke-width="0.5">10</text>
<polyline points="289,193 369,162 375,162" fill="none" stroke="#fff" stroke-width="1" />
<text x="372.5" y="161" font-size="5" font-family='"Liberation Sans","Noto Sans CJK SC",sans-serif' font-weight="bold" text-anchor="middle" fill="#fff" stroke="#fff" stroke-width="0.5">11</text>
<polyline points="304,196 369,174 375,174" fill="none" stroke="#fff" stroke-width="1" />
<text x="372.5" y="173" font-size="5" font-family='"Liberation Sans","Noto Sans CJK SC",sans-serif' font-weight="bold" text-anchor="middle" fill="#fff" stroke="#fff" stroke-width="0.5">12</text>
<polyline points="304,201.5 369,186 375,186" fill="none" stroke="#fff" stroke-width="1" />
<text x="372.5" y="185" font-size="5" font-family='"Liberation Sans","Noto Sans CJK SC",sans-serif' font-weight="bold" text-anchor="middle" fill="#fff" stroke="#fff" stroke-width="0.5">13</text>
<polyline points="304,203.5 369,203.5 375,203.5" fill="none" stroke="#fff" stroke-width="1" />
<text x="372.5" y="202.5" font-size="5" font-family='"Liberation Sans","Noto Sans CJK SC",sans-serif' font-weight="bold" text-anchor="middle" fill="#fff" stroke="#fff" stroke-width="0.5">14</text>
<polyline points="307,210.5 369,212.5 375,212.5" fill="none" stroke="#fff" stroke-width="1" />
<text x="372.5" y="211.5" font-size="5" font-family='"Liberation Sans","Noto Sans CJK SC",sans-serif' font-weight="bold" text-anchor="middle" fill="#fff" stroke="#fff" stroke-width="0.5">15</text>
<polyline points="305,212 369,219.5 375,219.5" fill="none" stroke="#fff" stroke-width="1" />
<text x="372.5" y="218.5" font-size="5" font-family='"Liberation Sans","Noto Sans CJK SC",sans-serif' font-weight="bold" text-anchor="middle" fill="#fff" stroke="#fff" stroke-width="0.5">16</text>
<polyline points="304,213 369,225 375,225" fill="none" stroke="#fff" stroke-width="1" />
<text x="372.5" y="224" font-size="5" font-family='"Liberation Sans","Noto Sans CJK SC",sans-serif' font-weight="bold" text-anchor="middle" fill="#fff" stroke="#fff" stroke-width="0.5">17</text>
<polyline points="369,236 375,236" fill="none" stroke="#fff" stroke-width="1" />
<text x="372.5" y="235" font-size="5" font-family='"Liberation Sans","Noto Sans CJK SC",sans-serif' font-weight="bold" text-anchor="middle" fill="#fff" stroke="#fff" stroke-width="0.5">18</text>
<polyline points="299,226 369,247 375,247" fill="none" stroke="#fff" stroke-width="1" />
<text x="372.5" y="246" font-size="5" font-family='"Liberation Sans","Noto Sans CJK SC",sans-serif' font-weight="bold" text-anchor="middle" fill="#fff" stroke="#fff" stroke-width="0.5">19</text>
<polyline points="241,249 369,259 375,259" fill="none" stroke="#fff" stroke-width="1" />
<text x="372.5" y="258" font-size="5" font-family='"Liberation Sans","Noto Sans CJK SC",sans-serif' font-weight="bold" text-anchor="middle" fill="#fff" stroke="#fff" stroke-width="0.5">20</text>
<polyline points="238,256 369,269 375,269" fill="none" stroke="#fff" stroke-width="1" />
<text x="372.5" y="268" font-size="5" font-family='"Liberation Sans","Noto Sans CJK SC",sans-serif' font-weight="bold" text-anchor="middle" fill="#fff" stroke="#fff" stroke-width="0.5">21</text>
<polyline points="222,261 369,280 375,280" fill="none" stroke="#fff" stroke-width="1" />
<text x="372.5" y="279" font-size="5" font-family='"Liberation Sans","Noto Sans CJK SC",sans-serif' font-weight="bold" text-anchor="middle" fill="#fff" stroke="#fff" stroke-width="0.5">22</text>
<line x1="222" y1="267" x2="253" y2="282" stroke="#fff" stroke-width="1" />
<polyline points="369,288 376,288" fill="none" stroke="#fff" stroke-width="1" />
<text x="372.5" y="287" font-size="5" font-family='"Liberation Sans","Noto Sans CJK SC",sans-serif' font-weight="bold" text-anchor="middle" fill="#fff" stroke="#fff" stroke-width="0.5">23</text>
<polyline points="369,300 376,300" fill="none" stroke="#fff" stroke-width="1" />
<text x="372.5" y="299" font-size="5" font-family='"Liberation Sans","Noto Sans CJK SC",sans-serif' font-weight="bold" text-anchor="middle" fill="#fff" stroke="#fff" stroke-width="0.5">24</text>
<polyline points="369,312 376,312" fill="none" stroke="#fff" stroke-width="1" />
<text x="372.5" y="311" font-size="5" font-family='"Liberation Sans","Noto Sans CJK SC",sans-serif' font-weight="bold" text-anchor="middle" fill="#fff" stroke="#fff" stroke-width="0.5">25</text>
<polyline points="258,284 369,324 375,324" fill="none" stroke="#fff" stroke-width="1" />
<text x="372.5" y="323" font-size="5" font-family='"Liberation Sans","Noto Sans CJK SC",sans-serif' font-weight="bold" text-anchor="middle" fill="#fff" stroke="#fff" stroke-width="0.5">26</text>
<polyline points="256,283 369,334 375,334" fill="none" stroke="#fff" stroke-width="1" />
<text x="372.5" y="333" font-size="5" font-family='"Liberation Sans","Noto Sans CJK SC",sans-serif' font-weight="bold" text-anchor="middle" fill="#fff" stroke="#fff" stroke-width="0.5">27</text>
<polyline points="254,282 369,341 375,341" fill="none" stroke="#fff" stroke-width="1" />
<text x="372.5" y="340" font-size="5" font-family='"Liberation Sans","Noto Sans CJK SC",sans-serif' font-weight="bold" text-anchor="middle" fill="#fff" stroke="#fff" stroke-width="0.5">28</text>
<polyline points="305,367 369,352 375,352" fill="none" stroke="#fff" stroke-width="1" />
<text x="372.5" y="351" font-size="5" font-family='"Liberation Sans","Noto Sans CJK SC",sans-serif' font-weight="bold" text-anchor="middle" fill="#fff" stroke="#fff" stroke-width="0.5">29</text>
<polyline points="306,378 369,363 375,363" fill="none" stroke="#fff" stroke-width="1" />
<text x="372.5" y="362" font-size="5" font-family='"Liberation Sans","Noto Sans CJK SC",sans-serif' font-weight="bold" text-anchor="middle" fill="#fff" stroke="#fff" stroke-width="0.5">30</text>
<polyline points="305,395 369,376 375,376" fill="none" stroke="#fff" stroke-width="1" />
<text x="372.5" y="375" font-size="5" font-family='"Liberation Sans","Noto Sans CJK SC",sans-serif' font-weight="bold" text-anchor="middle" fill="#fff" stroke="#fff" stroke-width="0.5">31</text>
<line x1="252" y1="168" x2="265" y2="192" stroke="#fff" stroke-width="1" />
<text x="311" y="486" font-size="5.5" font-family='"Liberation Sans","Noto Sans CJK SC",sans-serif' font-weight="bold" text-anchor="middle" fill="#fff" stroke="#fff" stroke-width="0.3">A向</text>
<line x1="310.5" y1="497" x2="310.5" y2="540" stroke="#d42222" stroke-width="1" />
<path d="M290,503.5 Q308,497 328,509 V535.5 H302.5 Q296,536 290,539.5 Z" fill="none" stroke="#fff" stroke-width="1" />
<rect x="304" y="513" width="13" height="14" fill="none" stroke="#fff" stroke-width="1" rx="0"/>
<rect x="305.5" y="509.5" width="10.5" height="3.5" fill="none" stroke="#fff" stroke-width="1" rx="0"/>
<rect x="305.5" y="527" width="10.5" height="6" fill="none" stroke="#fff" stroke-width="1" rx="0"/>
<line x1="304" y1="517" x2="317" y2="517" stroke="#fff" stroke-width="1" />
<line x1="304" y1="523.5" x2="317" y2="523.5" stroke="#fff" stroke-width="1" />
<line x1="317" y1="517.5" x2="331" y2="517.5" stroke="#fff" stroke-width="1" />
<line x1="317" y1="523" x2="331" y2="523" stroke="#fff" stroke-width="1" />
<line x1="325" y1="517.5" x2="325" y2="523" stroke="#fff" stroke-width="1" />
<path d="M317,518 L315,520 L317,522.5" fill="none" stroke="#fff" stroke-width="1" />
<rect x="328" y="510.5" width="3.5" height="20" fill="none" stroke="#fff" stroke-width="1" rx="0"/>
<rect x="331.5" y="514" width="3.5" height="13" fill="none" stroke="#fff" stroke-width="1" rx="0"/>
<path d="M335,503 L336.5,500.5 L338.5,503 V537 L336.5,539.5 L335,537 Z" fill="none" stroke="#fff" stroke-width="1" />
<rect x="338.5" y="517" width="3" height="6" fill="none" stroke="#fff" stroke-width="1" rx="0"/>
<text x="150" y="484" font-size="9" font-family='"Liberation Serif","Noto Serif CJK SC",serif' font-weight="bold" text-anchor="middle" fill="#fff" textLength="37" lengthAdjust="spacingAndGlyphs" stroke="#fff" stroke-width="0.3">技术要求</text>
<text x="79" y="493.2" font-size="6" font-family='"Liberation Sans","Noto Sans CJK SC",sans-serif' font-weight="bold" text-anchor="start" fill="#fff" textLength="166" lengthAdjust="spacingAndGlyphs" stroke="#fff" stroke-width="0.3">1.装配前，按图纸检查零件配合尺寸，合格零件才能装配；</text>
<text x="79" y="500.95" font-size="6" font-family='"Liberation Sans","Noto Sans CJK SC",sans-serif' font-weight="bold" text-anchor="start" fill="#fff" textLength="144" lengthAdjust="spacingAndGlyphs" stroke="#fff" stroke-width="0.3">2.装配后，固定轴承座位置保证轴向间隙0.05~0.1mm；</text>
<text x="79" y="508.7" font-size="6" font-family='"Liberation Sans","Noto Sans CJK SC",sans-serif' font-weight="bold" text-anchor="start" fill="#fff" textLength="67" lengthAdjust="spacingAndGlyphs" stroke="#fff" stroke-width="0.3">3.所有紧固件应进行紧固；</text>
<text x="79" y="516.45" font-size="6" font-family='"Liberation Sans","Noto Sans CJK SC",sans-serif' font-weight="bold" text-anchor="start" fill="#fff" textLength="82" lengthAdjust="spacingAndGlyphs" stroke="#fff" stroke-width="0.3">4.转动部件应转动灵活无卡滞；</text>
<text x="79" y="524.2" font-size="6" font-family='"Liberation Sans","Noto Sans CJK SC",sans-serif' font-weight="bold" text-anchor="start" fill="#fff" textLength="121" lengthAdjust="spacingAndGlyphs" stroke="#fff" stroke-width="0.3">5.机体与磨盘接触处应保证良好的密封性能；</text>
<text x="79" y="531.95" font-size="6" font-family='"Liberation Sans","Noto Sans CJK SC",sans-serif' font-weight="bold" text-anchor="start" fill="#fff" textLength="186" lengthAdjust="spacingAndGlyphs" stroke="#fff" stroke-width="0.3">6.食品机械用材应采用不生锈耐腐蚀材料并进行钝化，维护等。</text>
<rect x="534" y="470.6" width="118" height="96.36500000000001" fill="#fff"/>
<text x="537.5" y="474.865" font-size="3.4" font-family='"Liberation Sans","Noto Sans CJK SC",sans-serif' font-weight="normal" text-anchor="middle" fill="#c4c4c4" >45</text>
<rect x="541" y="471.6" width="5" height="3.5650000000000004" fill="#000"/>
<rect x="547" y="471.6" width="18" height="3.5650000000000004" fill="#000"/>
<text x="547.2" y="475.065" font-size="4.8" font-family='"Liberation Sans","Noto Sans CJK SC",sans-serif' font-weight="bold" text-anchor="start" fill="#fff" textLength="17.5" lengthAdjust="spacingAndGlyphs" stroke="#fff" stroke-width="0.9" paint-order="stroke">料斗</text>
<rect x="566" y="471.6" width="9" height="3.5650000000000004" fill="#000"/>
<rect x="576" y="471.6" width="8" height="3.5650000000000004" fill="#000"/>
<rect x="585" y="471.6" width="11" height="3.5650000000000004" fill="#000"/>
<text x="585.2" y="475.065" font-size="4.6" font-family='"Liberation Sans","Noto Sans CJK SC",sans-serif' font-weight="bold" text-anchor="start" fill="#fff" textLength="10.5" lengthAdjust="spacingAndGlyphs" stroke="#fff" stroke-width="0.9" paint-order="stroke">XM-05</text>
<rect x="597" y="471.6" width="2" height="3.5650000000000004" fill="#000"/>
<rect x="600" y="471.6" width="5" height="3.5650000000000004" fill="#000"/>
<rect x="606" y="471.6" width="11" height="3.5650000000000004" fill="#000"/>
<text x="606.2" y="475.065" font-size="4.6" font-family='"Liberation Sans","Noto Sans CJK SC",sans-serif' font-weight="bold" text-anchor="start" fill="#fff" textLength="10.5" lengthAdjust="spacingAndGlyphs" stroke="#fff" stroke-width="0.9" paint-order="stroke">35</text>
<rect x="618" y="471.6" width="6" height="3.5650000000000004" fill="#000"/>
<rect x="625" y="471.6" width="6" height="3.5650000000000004" fill="#000"/>
<rect x="632" y="471.6" width="7" height="3.5650000000000004" fill="#000"/>
<rect x="640" y="471.6" width="11" height="3.5650000000000004" fill="#000"/>
<text x="537.5" y="479.43" font-size="3.4" font-family='"Liberation Sans","Noto Sans CJK SC",sans-serif' font-weight="normal" text-anchor="middle" fill="#c4c4c4" >44</text>
<rect x="541" y="476.165" width="5" height="3.5650000000000004" fill="#000"/>
<rect x="547" y="476.165" width="18" height="3.5650000000000004" fill="#000"/>
<text x="547.2" y="479.63" font-size="4.8" font-family='"Liberation Sans","Noto Sans CJK SC",sans-serif' font-weight="bold" text-anchor="start" fill="#fff" textLength="17.5" lengthAdjust="spacingAndGlyphs" stroke="#fff" stroke-width="0.9" paint-order="stroke">隔环</text>
<rect x="566" y="476.165" width="9" height="3.5650000000000004" fill="#000"/>
<rect x="576" y="476.165" width="8" height="3.5650000000000004" fill="#000"/>
<text x="576.2" y="479.63" font-size="4.6" font-family='"Liberation Sans","Noto Sans CJK SC",sans-serif' font-weight="bold" text-anchor="start" fill="#fff" textLength="7.5" lengthAdjust="spacingAndGlyphs" stroke="#fff" stroke-width="0.9" paint-order="stroke">HT200</text>
<rect x="585" y="476.165" width="11" height="3.5650000000000004" fill="#000"/>
<rect x="597" y="476.165" width="2" height="3.5650000000000004" fill="#000"/>
<rect x="600" y="476.165" width="5" height="3.5650000000000004" fill="#000"/>
<rect x="606" y="476.165" width="11" height="3.5650000000000004" fill="#000"/>
<text x="606.2" y="479.63" font-size="4.6" font-family='"Liberation Sans","Noto Sans CJK SC",sans-serif' font-weight="bold" text-anchor="start" fill="#fff" textLength="10.5" lengthAdjust="spacingAndGlyphs" stroke="#fff" stroke-width="0.9" paint-order="stroke">HT200</text>
<rect x="618" y="476.165" width="6" height="3.5650000000000004" fill="#000"/>
<rect x="625" y="476.165" width="6" height="3.5650000000000004" fill="#000"/>
<rect x="632" y="476.165" width="7" height="3.5650000000000004" fill="#000"/>
<rect x="640" y="476.165" width="11" height="3.5650000000000004" fill="#000"/>
<text x="537.5" y="483.995" font-size="3.4" font-family='"Liberation Sans","Noto Sans CJK SC",sans-serif' font-weight="normal" text-anchor="middle" fill="#c4c4c4" >43</text>
<rect x="541" y="480.73" width="5" height="3.5650000000000004" fill="#000"/>
<rect x="547" y="480.73" width="18" height="3.5650000000000004" fill="#000"/>
<text x="547.2" y="484.195" font-size="4.8" font-family='"Liberation Sans","Noto Sans CJK SC",sans-serif' font-weight="bold" text-anchor="start" fill="#fff" textLength="17.5" lengthAdjust="spacingAndGlyphs" stroke="#fff" stroke-width="0.9" paint-order="stroke">螺钉M6</text>
<rect x="566" y="480.73" width="9" height="3.5650000000000004" fill="#000"/>
<text x="566.2" y="484.195" font-size="4.6" font-family='"Liberation Sans","Noto Sans CJK SC",sans-serif' font-weight="bold" text-anchor="start" fill="#fff" textLength="5.1" lengthAdjust="spacingAndGlyphs" stroke="#fff" stroke-width="0.9" paint-order="stroke">GB5783</text>
<rect x="576" y="480.73" width="8" height="3.5650000000000004" fill="#000"/>
<text x="576.2" y="484.195" font-size="4.6" font-family='"Liberation Sans","Noto Sans CJK SC",sans-serif' font-weight="bold" text-anchor="start" fill="#fff" textLength="7.5" lengthAdjust="spacingAndGlyphs" stroke="#fff" stroke-width="0.9" paint-order="stroke">成品</text>
<rect x="585" y="480.73" width="11" height="3.5650000000000004" fill="#000"/>
<rect x="597" y="480.73" width="2" height="3.5650000000000004" fill="#000"/>
<rect x="600" y="480.73" width="5" height="3.5650000000000004" fill="#000"/>
<rect x="606" y="480.73" width="11" height="3.5650000000000004" fill="#000"/>
<text x="606.2" y="484.195" font-size="4.6" font-family='"Liberation Sans","Noto Sans CJK SC",sans-serif' font-weight="bold" text-anchor="start" fill="#fff" textLength="10.5" lengthAdjust="spacingAndGlyphs" stroke="#fff" stroke-width="0.9" paint-order="stroke">成品</text>
<rect x="618" y="480.73" width="6" height="3.5650000000000004" fill="#000"/>
<rect x="625" y="480.73" width="6" height="3.5650000000000004" fill="#000"/>
<rect x="632" y="480.73" width="7" height="3.5650000000000004" fill="#000"/>
<rect x="640" y="480.73" width="11" height="3.5650000000000004" fill="#000"/>
<text x="537.5" y="488.56" font-size="3.4" font-family='"Liberation Sans","Noto Sans CJK SC",sans-serif' font-weight="normal" text-anchor="middle" fill="#c4c4c4" >42</text>
<rect x="541" y="485.295" width="5" height="3.5650000000000004" fill="#000"/>
<rect x="547" y="485.295" width="18" height="3.5650000000000004" fill="#000"/>
<rect x="566" y="485.295" width="9" height="3.5650000000000004" fill="#000"/>
<text x="566.2" y="488.76" font-size="4.6" font-family='"Liberation Sans","Noto Sans CJK SC",sans-serif' font-weight="bold" text-anchor="start" fill="#fff" textLength="6.8" lengthAdjust="spacingAndGlyphs" stroke="#fff" stroke-width="0.9" paint-order="stroke">XM-02</text>
<rect x="576" y="485.295" width="8" height="3.5650000000000004" fill="#000"/>
<text x="576.2" y="488.76" font-size="4.6" font-family='"Liberation Sans","Noto Sans CJK SC",sans-serif' font-weight="bold" text-anchor="start" fill="#fff" textLength="7.5" lengthAdjust="spacingAndGlyphs" stroke="#fff" stroke-width="0.9" paint-order="stroke">橡胶</text>
<rect x="585" y="485.295" width="11" height="3.5650000000000004" fill="#000"/>
<rect x="597" y="485.295" width="2" height="3.5650000000000004" fill="#000"/>
<rect x="600" y="485.295" width="5" height="3.5650000000000004" fill="#000"/>
<rect x="606" y="485.295" width="11" height="3.5650000000000004" fill="#000"/>
<text x="606.2" y="488.76" font-size="4.6" font-family='"Liberation Sans","Noto Sans CJK SC",sans-serif' font-weight="bold" text-anchor="start" fill="#fff" textLength="10.5" lengthAdjust="spacingAndGlyphs" stroke="#fff" stroke-width="0.9" paint-order="stroke">橡胶</text>
<rect x="618" y="485.295" width="6" height="3.5650000000000004" fill="#000"/>
<rect x="625" y="485.295" width="6" height="3.5650000000000004" fill="#000"/>
<rect x="632" y="485.295" width="7" height="3.5650000000000004" fill="#000"/>
<rect x="640" y="485.295" width="11" height="3.5650000000000004" fill="#000"/>
<text x="537.5" y="493.125" font-size="3.4" font-family='"Liberation Sans","Noto Sans CJK SC",sans-serif' font-weight="normal" text-anchor="middle" fill="#c4c4c4" >41</text>
<rect x="541" y="489.86" width="5" height="3.5650000000000004" fill="#000"/>
<rect x="547" y="489.86" width="18" height="3.5650000000000004" fill="#000"/>
<rect x="566" y="489.86" width="9" height="3.5650000000000004" fill="#000"/>
<rect x="576" y="489.86" width="8" height="3.5650000000000004" fill="#000"/>
<text x="576.2" y="493.325" font-size="4.6" font-family='"Liberation Sans","Noto Sans CJK SC",sans-serif' font-weight="bold" text-anchor="start" fill="#fff" textLength="7.5" lengthAdjust="spacingAndGlyphs" stroke="#fff" stroke-width="0.9" paint-order="stroke">Q235A</text>
<rect x="585" y="489.86" width="11" height="3.5650000000000004" fill="#000"/>
<rect x="597" y="489.86" width="2" height="3.5650000000000004" fill="#000"/>
<rect x="600" y="489.86" width="5" height="3.5650000000000004" fill="#000"/>
<rect x="606" y="489.86" width="11" height="3.5650000000000004" fill="#000"/>
<text x="606.2" y="493.325" font-size="4.6" font-family='"Liberation Sans","Noto Sans CJK SC",sans-serif' font-weight="bold" text-anchor="start" fill="#fff" textLength="10.5" lengthAdjust="spacingAndGlyphs" stroke="#fff" stroke-width="0.9" paint-order="stroke">Q235A</text>
<rect x="618" y="489.86" width="6" height="3.5650000000000004" fill="#000"/>
<rect x="625" y="489.86" width="6" height="3.5650000000000004" fill="#000"/>
<rect x="632" y="489.86" width="7" height="3.5650000000000004" fill="#000"/>
<rect x="640" y="489.86" width="11" height="3.5650000000000004" fill="#000"/>
<text x="537.5" y="497.69" font-size="3.4" font-family='"Liberation Sans","Noto Sans CJK SC",sans-serif' font-weight="normal" text-anchor="middle" fill="#c4c4c4" >40</text>
<rect x="541" y="494.425" width="5" height="3.5650000000000004" fill="#000"/>
<rect x="547" y="494.425" width="18" height="3.5650000000000004" fill="#000"/>
<text x="547.2" y="497.89" font-size="4.8" font-family='"Liberation Sans","Noto Sans CJK SC",sans-serif' font-weight="bold" text-anchor="start" fill="#fff" textLength="15.8" lengthAdjust="spacingAndGlyphs" stroke="#fff" stroke-width="0.9" paint-order="stroke">出料口</text>
<rect x="566" y="494.425" width="9" height="3.5650000000000004" fill="#000"/>
<text x="566.2" y="497.89" font-size="4.6" font-family='"Liberation Sans","Noto Sans CJK SC",sans-serif' font-weight="bold" text-anchor="start" fill="#fff" textLength="6.8" lengthAdjust="spacingAndGlyphs" stroke="#fff" stroke-width="0.9" paint-order="stroke">XM-09</text>
<rect x="576" y="494.425" width="8" height="3.5650000000000004" fill="#000"/>
<text x="576.2" y="497.89" font-size="4.6" font-family='"Liberation Sans","Noto Sans CJK SC",sans-serif' font-weight="bold" text-anchor="start" fill="#fff" textLength="5.6" lengthAdjust="spacingAndGlyphs" stroke="#fff" stroke-width="0.9" paint-order="stroke">35</text>
<rect x="585" y="494.425" width="11" height="3.5650000000000004" fill="#000"/>
<rect x="597" y="494.425" width="2" height="3.5650000000000004" fill="#000"/>
<rect x="600" y="494.425" width="5" height="3.5650000000000004" fill="#000"/>
<rect x="606" y="494.425" width="11" height="3.5650000000000004" fill="#000"/>
<text x="606.2" y="497.89" font-size="4.6" font-family='"Liberation Sans","Noto Sans CJK SC",sans-serif' font-weight="bold" text-anchor="start" fill="#fff" textLength="9.5" lengthAdjust="spacingAndGlyphs" stroke="#fff" stroke-width="0.9" paint-order="stroke">35</text>
<rect x="618" y="494.425" width="6" height="3.5650000000000004" fill="#000"/>
<rect x="625" y="494.425" width="6" height="3.5650000000000004" fill="#000"/>
<rect x="632" y="494.425" width="7" height="3.5650000000000004" fill="#000"/>
<rect x="640" y="494.425" width="11" height="3.5650000000000004" fill="#000"/>
<text x="537.5" y="502.255" font-size="3.4" font-family='"Liberation Sans","Noto Sans CJK SC",sans-serif' font-weight="normal" text-anchor="middle" fill="#c4c4c4" >39</text>
<rect x="541" y="498.99" width="5" height="3.5650000000000004" fill="#000"/>
<rect x="547" y="498.99" width="18" height="3.5650000000000004" fill="#000"/>
<text x="547.2" y="502.455" font-size="4.8" font-family='"Liberation Sans","Noto Sans CJK SC",sans-serif' font-weight="bold" text-anchor="start" fill="#fff" textLength="17.5" lengthAdjust="spacingAndGlyphs" stroke="#fff" stroke-width="0.9" paint-order="stroke">三角带</text>
<rect x="566" y="498.99" width="9" height="3.5650000000000004" fill="#000"/>
<text x="566.2" y="502.455" font-size="4.6" font-family='"Liberation Sans","Noto Sans CJK SC",sans-serif' font-weight="bold" text-anchor="start" fill="#fff" textLength="8.5" lengthAdjust="spacingAndGlyphs" stroke="#fff" stroke-width="0.9" paint-order="stroke">GB1096</text>
<rect x="576" y="498.99" width="8" height="3.5650000000000004" fill="#000"/>
<text x="576.2" y="502.455" font-size="4.6" font-family='"Liberation Sans","Noto Sans CJK SC",sans-serif' font-weight="bold" text-anchor="start" fill="#fff" textLength="6.8" lengthAdjust="spacingAndGlyphs" stroke="#fff" stroke-width="0.9" paint-order="stroke">HT200</text>
<rect x="585" y="498.99" width="11" height="3.5650000000000004" fill="#000"/>
<rect x="597" y="498.99" width="2" height="3.5650000000000004" fill="#000"/>
<rect x="600" y="498.99" width="5" height="3.5650000000000004" fill="#000"/>
<rect x="606" y="498.99" width="11" height="3.5650000000000004" fill="#000"/>
<text x="606.2" y="502.455" font-size="4.6" font-family='"Liberation Sans","Noto Sans CJK SC",sans-serif' font-weight="bold" text-anchor="start" fill="#fff" textLength="7.9" lengthAdjust="spacingAndGlyphs" stroke="#fff" stroke-width="0.9" paint-order="stroke">HT200</text>
<rect x="618" y="498.99" width="6" height="3.5650000000000004" fill="#000"/>
<rect x="625" y="498.99" width="6" height="3.5650000000000004" fill="#000"/>
<rect x="632" y="498.99" width="7" height="3.5650000000000004" fill="#000"/>
<rect x="640" y="498.99" width="11" height="3.5650000000000004" fill="#000"/>
<text x="537.5" y="506.82" font-size="3.4" font-family='"Liberation Sans","Noto Sans CJK SC",sans-serif' font-weight="normal" text-anchor="middle" fill="#c4c4c4" >38</text>
<rect x="541" y="503.555" width="5" height="3.5650000000000004" fill="#000"/>
<rect x="547" y="503.555" width="18" height="3.5650000000000004" fill="#000"/>
<text x="547.2" y="507.02" font-size="4.8" font-family='"Liberation Sans","Noto Sans CJK SC",sans-serif' font-weight="bold" text-anchor="start" fill="#fff" textLength="17.5" lengthAdjust="spacingAndGlyphs" stroke="#fff" stroke-width="0.9" paint-order="stroke">静磨盘</text>
<rect x="566" y="503.555" width="9" height="3.5650000000000004" fill="#000"/>
<rect x="576" y="503.555" width="8" height="3.5650000000000004" fill="#000"/>
<text x="576.2" y="507.02" font-size="4.6" font-family='"Liberation Sans","Noto Sans CJK SC",sans-serif' font-weight="bold" text-anchor="start" fill="#fff" textLength="6.8" lengthAdjust="spacingAndGlyphs" stroke="#fff" stroke-width="0.9" paint-order="stroke">成品</text>
<rect x="585" y="503.555" width="11" height="3.5650000000000004" fill="#000"/>
<rect x="597" y="503.555" width="2" height="3.5650000000000004" fill="#000"/>
<rect x="600" y="503.555" width="5" height="3.5650000000000004" fill="#000"/>
<rect x="606" y="503.555" width="11" height="3.5650000000000004" fill="#000"/>
<text x="606.2" y="507.02" font-size="4.6" font-family='"Liberation Sans","Noto Sans CJK SC",sans-serif' font-weight="bold" text-anchor="start" fill="#fff" textLength="10.5" lengthAdjust="spacingAndGlyphs" stroke="#fff" stroke-width="0.9" paint-order="stroke">成品</text>
<rect x="618" y="503.555" width="6" height="3.5650000000000004" fill="#000"/>
<rect x="625" y="503.555" width="6" height="3.5650000000000004" fill="#000"/>
<rect x="632" y="503.555" width="7" height="3.5650000000000004" fill="#000"/>
<rect x="640" y="503.555" width="11" height="3.5650000000000004" fill="#000"/>
<text x="537.5" y="511.385" font-size="3.4" font-family='"Liberation Sans","Noto Sans CJK SC",sans-serif' font-weight="normal" text-anchor="middle" fill="#c4c4c4" >37</text>
<rect x="541" y="508.12" width="5" height="3.5650000000000004" fill="#000"/>
<rect x="547" y="508.12" width="18" height="3.5650000000000004" fill="#000"/>
<text x="547.2" y="511.585" font-size="4.8" font-family='"Liberation Sans","Noto Sans CJK SC",sans-serif' font-weight="bold" text-anchor="start" fill="#fff" textLength="17.5" lengthAdjust="spacingAndGlyphs" stroke="#fff" stroke-width="0.9" paint-order="stroke">吊环</text>
<rect x="566" y="508.12" width="9" height="3.5650000000000004" fill="#000"/>
<text x="566.2" y="511.585" font-size="4.6" font-family='"Liberation Sans","Noto Sans CJK SC",sans-serif' font-weight="bold" text-anchor="start" fill="#fff" textLength="5.1" lengthAdjust="spacingAndGlyphs" stroke="#fff" stroke-width="0.9" paint-order="stroke">XM-05</text>
<rect x="576" y="508.12" width="8" height="3.5650000000000004" fill="#000"/>
<text x="576.2" y="511.585" font-size="4.6" font-family='"Liberation Sans","Noto Sans CJK SC",sans-serif' font-weight="bold" text-anchor="start" fill="#fff" textLength="6.8" lengthAdjust="spacingAndGlyphs" stroke="#fff" stroke-width="0.9" paint-order="stroke">橡胶</text>
<rect x="585" y="508.12" width="11" height="3.5650000000000004" fill="#000"/>
<rect x="597" y="508.12" width="2" height="3.5650000000000004" fill="#000"/>
<rect x="600" y="508.12" width="5" height="3.5650000000000004" fill="#000"/>
<rect x="606" y="508.12" width="11" height="3.5650000000000004" fill="#000"/>
<text x="606.2" y="511.585" font-size="4.6" font-family='"Liberation Sans","Noto Sans CJK SC",sans-serif' font-weight="bold" text-anchor="start" fill="#fff" textLength="7.9" lengthAdjust="spacingAndGlyphs" stroke="#fff" stroke-width="0.9" paint-order="stroke">橡胶</text>
<rect x="618" y="508.12" width="6" height="3.5650000000000004" fill="#000"/>
<rect x="625" y="508.12" width="6" height="3.5650000000000004" fill="#000"/>
<rect x="632" y="508.12" width="7" height="3.5650000000000004" fill="#000"/>
<rect x="640" y="508.12" width="11" height="3.5650000000000004" fill="#000"/>
<text x="537.5" y="515.95" font-size="3.4" font-family='"Liberation Sans","Noto Sans CJK SC",sans-serif' font-weight="normal" text-anchor="middle" fill="#c4c4c4" >36</text>
<rect x="541" y="512.685" width="5" height="3.5650000000000004" fill="#000"/>
<rect x="547" y="512.685" width="18" height="3.5650000000000004" fill="#000"/>
<text x="547.2" y="516.15" font-size="4.8" font-family='"Liberation Sans","Noto Sans CJK SC",sans-serif' font-weight="bold" text-anchor="start" fill="#fff" textLength="15.8" lengthAdjust="spacingAndGlyphs" stroke="#fff" stroke-width="0.9" paint-order="stroke">筛网</text>
<rect x="566" y="512.685" width="9" height="3.5650000000000004" fill="#000"/>
<rect x="576" y="512.685" width="8" height="3.5650000000000004" fill="#000"/>
<text x="576.2" y="516.15" font-size="4.6" font-family='"Liberation Sans","Noto Sans CJK SC",sans-serif' font-weight="bold" text-anchor="start" fill="#fff" textLength="6.8" lengthAdjust="spacingAndGlyphs" stroke="#fff" stroke-width="0.9" paint-order="stroke">Q235A</text>
<rect x="585" y="512.685" width="11" height="3.5650000000000004" fill="#000"/>
<rect x="597" y="512.685" width="2" height="3.5650000000000004" fill="#000"/>
<rect x="600" y="512.685" width="5" height="3.5650000000000004" fill="#000"/>
<rect x="606" y="512.685" width="11" height="3.5650000000000004" fill="#000"/>
<text x="606.2" y="516.15" font-size="4.6" font-family='"Liberation Sans","Noto Sans CJK SC",sans-serif' font-weight="bold" text-anchor="start" fill="#fff" textLength="10.5" lengthAdjust="spacingAndGlyphs" stroke="#fff" stroke-width="0.9" paint-order="stroke">Q235A</text>
<rect x="618" y="512.685" width="6" height="3.5650000000000004" fill="#000"/>
<rect x="625" y="512.685" width="6" height="3.5650000000000004" fill="#000"/>
<rect x="632" y="512.685" width="7" height="3.5650000000000004" fill="#000"/>
<rect x="640" y="512.685" width="11" height="3.5650000000000004" fill="#000"/>
<text x="537.5" y="520.5150000000001" font-size="3.4" font-family='"Liberation Sans","Noto Sans CJK SC",sans-serif' font-weight="normal" text-anchor="middle" fill="#c4c4c4" >35</text>
<rect x="541" y="517.25" width="5" height="3.5650000000000004" fill="#000"/>
<rect x="547" y="517.25" width="18" height="3.5650000000000004" fill="#000"/>
<text x="547.2" y="520.715" font-size="4.8" font-family='"Liberation Sans","Noto Sans CJK SC",sans-serif' font-weight="bold" text-anchor="start" fill="#fff" textLength="17.5" lengthAdjust="spacingAndGlyphs" stroke="#fff" stroke-width="0.9" paint-order="stroke">法兰</text>
<rect x="566" y="517.25" width="9" height="3.5650000000000004" fill="#000"/>
<text x="566.2" y="520.715" font-size="4.6" font-family='"Liberation Sans","Noto Sans CJK SC",sans-serif' font-weight="bold" text-anchor="start" fill="#fff" textLength="5.1" lengthAdjust="spacingAndGlyphs" stroke="#fff" stroke-width="0.9" paint-order="stroke">GB5783</text>
<rect x="576" y="517.25" width="8" height="3.5650000000000004" fill="#000"/>
<text x="576.2" y="520.715" font-size="4.6" font-family='"Liberation Sans","Noto Sans CJK SC",sans-serif' font-weight="bold" text-anchor="start" fill="#fff" textLength="6.8" lengthAdjust="spacingAndGlyphs" stroke="#fff" stroke-width="0.9" paint-order="stroke">35</text>
<rect x="585" y="517.25" width="11" height="3.5650000000000004" fill="#000"/>
<text x="585.2" y="520.715" font-size="4.6" font-family='"Liberation Sans","Noto Sans CJK SC",sans-serif' font-weight="bold" text-anchor="start" fill="#fff" textLength="6.3" lengthAdjust="spacingAndGlyphs" stroke="#fff" stroke-width="0.9" paint-order="stroke">GB5783</text>
<rect x="597" y="517.25" width="2" height="3.5650000000000004" fill="#000"/>
<rect x="600" y="517.25" width="5" height="3.5650000000000004" fill="#000"/>
<rect x="606" y="517.25" width="11" height="3.5650000000000004" fill="#000"/>
<text x="606.2" y="520.715" font-size="4.6" font-family='"Liberation Sans","Noto Sans CJK SC",sans-serif' font-weight="bold" text-anchor="start" fill="#fff" textLength="7.9" lengthAdjust="spacingAndGlyphs" stroke="#fff" stroke-width="0.9" paint-order="stroke">35</text>
<rect x="618" y="517.25" width="6" height="3.5650000000000004" fill="#000"/>
<rect x="625" y="517.25" width="6" height="3.5650000000000004" fill="#000"/>
<rect x="632" y="517.25" width="7" height="3.5650000000000004" fill="#000"/>
<rect x="640" y="517.25" width="11" height="3.5650000000000004" fill="#000"/>
<text x="537.5" y="525.0800000000002" font-size="3.4" font-family='"Liberation Sans","Noto Sans CJK SC",sans-serif' font-weight="normal" text-anchor="middle" fill="#c4c4c4" >34</text>
<rect x="541" y="521.815" width="5" height="3.5650000000000004" fill="#000"/>
<rect x="547" y="521.815" width="18" height="3.5650000000000004" fill="#000"/>
<text x="547.2" y="525.2800000000001" font-size="4.8" font-family='"Liberation Sans","Noto Sans CJK SC",sans-serif' font-weight="bold" text-anchor="start" fill="#fff" textLength="14.0" lengthAdjust="spacingAndGlyphs" stroke="#fff" stroke-width="0.9" paint-order="stroke">底板</text>
<rect x="566" y="521.815" width="9" height="3.5650000000000004" fill="#000"/>
<rect x="576" y="521.815" width="8" height="3.5650000000000004" fill="#000"/>
<text x="576.2" y="525.2800000000001" font-size="4.6" font-family='"Liberation Sans","Noto Sans CJK SC",sans-serif' font-weight="bold" text-anchor="start" fill="#fff" textLength="6.8" lengthAdjust="spacingAndGlyphs" stroke="#fff" stroke-width="0.9" paint-order="stroke">HT200</text>
<rect x="585" y="521.815" width="11" height="3.5650000000000004" fill="#000"/>
<rect x="597" y="521.815" width="2" height="3.5650000000000004" fill="#000"/>
<rect x="600" y="521.815" width="5" height="3.5650000000000004" fill="#000"/>
<rect x="606" y="521.815" width="11" height="3.5650000000000004" fill="#000"/>
<text x="606.2" y="525.2800000000001" font-size="4.6" font-family='"Liberation Sans","Noto Sans CJK SC",sans-serif' font-weight="bold" text-anchor="start" fill="#fff" textLength="7.9" lengthAdjust="spacingAndGlyphs" stroke="#fff" stroke-width="0.9" paint-order="stroke">HT200</text>
<rect x="618" y="521.815" width="6" height="3.5650000000000004" fill="#000"/>
<rect x="625" y="521.815" width="6" height="3.5650000000000004" fill="#000"/>
<rect x="632" y="521.815" width="7" height="3.5650000000000004" fill="#000"/>
<rect x="640" y="521.815" width="11" height="3.5650000000000004" fill="#000"/>
<text x="537.5" y="529.6450000000001" font-size="3.4" font-family='"Liberation Sans","Noto Sans CJK SC",sans-serif' font-weight="normal" text-anchor="middle" fill="#c4c4c4" >33</text>
<rect x="541" y="526.38" width="5" height="3.5650000000000004" fill="#000"/>
<rect x="547" y="526.38" width="18" height="3.5650000000000004" fill="#000"/>
<text x="547.2" y="529.845" font-size="4.8" font-family='"Liberation Sans","Noto Sans CJK SC",sans-serif' font-weight="bold" text-anchor="start" fill="#fff" textLength="15.8" lengthAdjust="spacingAndGlyphs" stroke="#fff" stroke-width="0.9" paint-order="stroke">密封圈</text>
<rect x="566" y="526.38" width="9" height="3.5650000000000004" fill="#000"/>
<rect x="576" y="526.38" width="8" height="3.5650000000000004" fill="#000"/>
<text x="576.2" y="529.845" font-size="4.6" font-family='"Liberation Sans","Noto Sans CJK SC",sans-serif' font-weight="bold" text-anchor="start" fill="#fff" textLength="6.8" lengthAdjust="spacingAndGlyphs" stroke="#fff" stroke-width="0.9" paint-order="stroke">成品</text>
<rect x="585" y="526.38" width="11" height="3.5650000000000004" fill="#000"/>
<text x="585.2" y="529.845" font-size="4.6" font-family='"Liberation Sans","Noto Sans CJK SC",sans-serif' font-weight="bold" text-anchor="start" fill="#fff" textLength="8.4" lengthAdjust="spacingAndGlyphs" stroke="#fff" stroke-width="0.9" paint-order="stroke">XM-10</text>
<rect x="597" y="526.38" width="2" height="3.5650000000000004" fill="#000"/>
<rect x="600" y="526.38" width="5" height="3.5650000000000004" fill="#000"/>
<rect x="606" y="526.38" width="11" height="3.5650000000000004" fill="#000"/>
<text x="606.2" y="529.845" font-size="4.6" font-family='"Liberation Sans","Noto Sans CJK SC",sans-serif' font-weight="bold" text-anchor="start" fill="#fff" textLength="9.5" lengthAdjust="spacingAndGlyphs" stroke="#fff" stroke-width="0.9" paint-order="stroke">成品</text>
<rect x="618" y="526.38" width="6" height="3.5650000000000004" fill="#000"/>
<rect x="625" y="526.38" width="6" height="3.5650000000000004" fill="#000"/>
<rect x="632" y="526.38" width="7" height="3.5650000000000004" fill="#000"/>
<rect x="640" y="526.38" width="11" height="3.5650000000000004" fill="#000"/>
<text x="537.5" y="534.2100000000002" font-size="3.4" font-family='"Liberation Sans","Noto Sans CJK SC",sans-serif' font-weight="normal" text-anchor="middle" fill="#c4c4c4" >32</text>
<rect x="541" y="530.945" width="5" height="3.5650000000000004" fill="#000"/>
<rect x="547" y="530.945" width="18" height="3.5650000000000004" fill="#000"/>
<text x="547.2" y="534.4100000000001" font-size="4.8" font-family='"Liberation Sans","Noto Sans CJK SC",sans-serif' font-weight="bold" text-anchor="start" fill="#fff" textLength="17.5" lengthAdjust="spacingAndGlyphs" stroke="#fff" stroke-width="0.9" paint-order="stroke">螺栓M8</text>
<rect x="566" y="530.945" width="9" height="3.5650000000000004" fill="#000"/>
<text x="566.2" y="534.4100000000001" font-size="4.6" font-family='"Liberation Sans","Noto Sans CJK SC",sans-serif' font-weight="bold" text-anchor="start" fill="#fff" textLength="6.8" lengthAdjust="spacingAndGlyphs" stroke="#fff" stroke-width="0.9" paint-order="stroke">XM-09</text>
<rect x="576" y="530.945" width="8" height="3.5650000000000004" fill="#000"/>
<text x="576.2" y="534.4100000000001" font-size="4.6" font-family='"Liberation Sans","Noto Sans CJK SC",sans-serif' font-weight="bold" text-anchor="start" fill="#fff" textLength="7.5" lengthAdjust="spacingAndGlyphs" stroke="#fff" stroke-width="0.9" paint-order="stroke">橡胶</text>
<rect x="585" y="530.945" width="11" height="3.5650000000000004" fill="#000"/>
<rect x="597" y="530.945" width="2" height="3.5650000000000004" fill="#000"/>
<rect x="600" y="530.945" width="5" height="3.5650000000000004" fill="#000"/>
<rect x="606" y="530.945" width="11" height="3.5650000000000004" fill="#000"/>
<text x="606.2" y="534.4100000000001" font-size="4.6" font-family='"Liberation Sans","Noto Sans CJK SC",sans-serif' font-weight="bold" text-anchor="start" fill="#fff" textLength="10.5" lengthAdjust="spacingAndGlyphs" stroke="#fff" stroke-width="0.9" paint-order="stroke">橡胶</text>
<rect x="618" y="530.945" width="6" height="3.5650000000000004" fill="#000"/>
<rect x="625" y="530.945" width="6" height="3.5650000000000004" fill="#000"/>
<rect x="632" y="530.945" width="7" height="3.5650000000000004" fill="#000"/>
<rect x="640" y="530.945" width="11" height="3.5650000000000004" fill="#000"/>
<text x="537.5" y="538.7750000000001" font-size="3.4" font-family='"Liberation Sans","Noto Sans CJK SC",sans-serif' font-weight="normal" text-anchor="middle" fill="#c4c4c4" >31</text>
<rect x="541" y="535.51" width="5" height="3.5650000000000004" fill="#000"/>
<rect x="547" y="535.51" width="18" height="3.5650000000000004" fill="#000"/>
<rect x="566" y="535.51" width="9" height="3.5650000000000004" fill="#000"/>
<text x="566.2" y="538.975" font-size="4.6" font-family='"Liberation Sans","Noto Sans CJK SC",sans-serif' font-weight="bold" text-anchor="start" fill="#fff" textLength="8.5" lengthAdjust="spacingAndGlyphs" stroke="#fff" stroke-width="0.9" paint-order="stroke">GB1096</text>
<rect x="576" y="535.51" width="8" height="3.5650000000000004" fill="#000"/>
<text x="576.2" y="538.975" font-size="4.6" font-family='"Liberation Sans","Noto Sans CJK SC",sans-serif' font-weight="bold" text-anchor="start" fill="#fff" textLength="7.5" lengthAdjust="spacingAndGlyphs" stroke="#fff" stroke-width="0.9" paint-order="stroke">Q235A</text>
<rect x="585" y="535.51" width="11" height="3.5650000000000004" fill="#000"/>
<rect x="597" y="535.51" width="2" height="3.5650000000000004" fill="#000"/>
<rect x="600" y="535.51" width="5" height="3.5650000000000004" fill="#000"/>
<rect x="606" y="535.51" width="11" height="3.5650000000000004" fill="#000"/>
<text x="606.2" y="538.975" font-size="4.6" font-family='"Liberation Sans","Noto Sans CJK SC",sans-serif' font-weight="bold" text-anchor="start" fill="#fff" textLength="9.5" lengthAdjust="spacingAndGlyphs" stroke="#fff" stroke-width="0.9" paint-order="stroke">Q235A</text>
<rect x="618" y="535.51" width="6" height="3.5650000000000004" fill="#000"/>
<rect x="625" y="535.51" width="6" height="3.5650000000000004" fill="#000"/>
<rect x="632" y="535.51" width="7" height="3.5650000000000004" fill="#000"/>
<rect x="640" y="535.51" width="11" height="3.5650000000000004" fill="#000"/>
<text x="537.5" y="543.3400000000001" font-size="3.4" font-family='"Liberation Sans","Noto Sans CJK SC",sans-serif' font-weight="normal" text-anchor="middle" fill="#c4c4c4" >30</text>
<rect x="541" y="540.075" width="5" height="3.5650000000000004" fill="#000"/>
<rect x="547" y="540.075" width="18" height="3.5650000000000004" fill="#000"/>
<text x="547.2" y="543.5400000000001" font-size="4.8" font-family='"Liberation Sans","Noto Sans CJK SC",sans-serif' font-weight="bold" text-anchor="start" fill="#fff" textLength="11.4" lengthAdjust="spacingAndGlyphs" stroke="#fff" stroke-width="0.9" paint-order="stroke">料斗</text>
<rect x="566" y="540.075" width="9" height="3.5650000000000004" fill="#000"/>
<text x="566.2" y="543.5400000000001" font-size="4.6" font-family='"Liberation Sans","Noto Sans CJK SC",sans-serif' font-weight="bold" text-anchor="start" fill="#fff" textLength="5.1" lengthAdjust="spacingAndGlyphs" stroke="#fff" stroke-width="0.9" paint-order="stroke">XM-06</text>
<rect x="576" y="540.075" width="8" height="3.5650000000000004" fill="#000"/>
<text x="576.2" y="543.5400000000001" font-size="4.6" font-family='"Liberation Sans","Noto Sans CJK SC",sans-serif' font-weight="bold" text-anchor="start" fill="#fff" textLength="7.5" lengthAdjust="spacingAndGlyphs" stroke="#fff" stroke-width="0.9" paint-order="stroke">35</text>
<rect x="585" y="540.075" width="11" height="3.5650000000000004" fill="#000"/>
<rect x="597" y="540.075" width="2" height="3.5650000000000004" fill="#000"/>
<rect x="600" y="540.075" width="5" height="3.5650000000000004" fill="#000"/>
<rect x="606" y="540.075" width="11" height="3.5650000000000004" fill="#000"/>
<text x="606.2" y="543.5400000000001" font-size="4.6" font-family='"Liberation Sans","Noto Sans CJK SC",sans-serif' font-weight="bold" text-anchor="start" fill="#fff" textLength="7.9" lengthAdjust="spacingAndGlyphs" stroke="#fff" stroke-width="0.9" paint-order="stroke">35</text>
<rect x="618" y="540.075" width="6" height="3.5650000000000004" fill="#000"/>
<rect x="625" y="540.075" width="6" height="3.5650000000000004" fill="#000"/>
<rect x="632" y="540.075" width="7" height="3.5650000000000004" fill="#000"/>
<rect x="640" y="540.075" width="11" height="3.5650000000000004" fill="#000"/>
<text x="537.5" y="547.9050000000001" font-size="3.4" font-family='"Liberation Sans","Noto Sans CJK SC",sans-serif' font-weight="normal" text-anchor="middle" fill="#c4c4c4" >29</text>
<rect x="541" y="544.64" width="5" height="3.5650000000000004" fill="#000"/>
<rect x="547" y="544.64" width="18" height="3.5650000000000004" fill="#000"/>
<rect x="566" y="544.64" width="9" height="3.5650000000000004" fill="#000"/>
<rect x="576" y="544.64" width="8" height="3.5650000000000004" fill="#000"/>
<text x="576.2" y="548.105" font-size="4.6" font-family='"Liberation Sans","Noto Sans CJK SC",sans-serif' font-weight="bold" text-anchor="start" fill="#fff" textLength="5.6" lengthAdjust="spacingAndGlyphs" stroke="#fff" stroke-width="0.9" paint-order="stroke">HT200</text>
<rect x="585" y="544.64" width="11" height="3.5650000000000004" fill="#000"/>
<rect x="597" y="544.64" width="2" height="3.5650000000000004" fill="#000"/>
<rect x="600" y="544.64" width="5" height="3.5650000000000004" fill="#000"/>
<rect x="606" y="544.64" width="11" height="3.5650000000000004" fill="#000"/>
<rect x="618" y="544.64" width="6" height="3.5650000000000004" fill="#000"/>
<rect x="625" y="544.64" width="6" height="3.5650000000000004" fill="#000"/>
<rect x="632" y="544.64" width="7" height="3.5650000000000004" fill="#000"/>
<rect x="640" y="544.64" width="11" height="3.5650000000000004" fill="#000"/>
<text x="537.5" y="552.4700000000001" font-size="3.4" font-family='"Liberation Sans","Noto Sans CJK SC",sans-serif' font-weight="normal" text-anchor="middle" fill="#c4c4c4" >28</text>
<rect x="541" y="549.205" width="5" height="3.5650000000000004" fill="#000"/>
<rect x="547" y="549.205" width="18" height="3.5650000000000004" fill="#000"/>
<rect x="566" y="549.205" width="9" height="3.5650000000000004" fill="#000"/>
<rect x="576" y="549.205" width="8" height="3.5650000000000004" fill="#000"/>
<rect x="585" y="549.205" width="11" height="3.5650000000000004" fill="#000"/>
<rect x="597" y="549.205" width="2" height="3.5650000000000004" fill="#000"/>
<rect x="600" y="549.205" width="5" height="3.5650000000000004" fill="#000"/>
<rect x="606" y="549.205" width="11" height="3.5650000000000004" fill="#000"/>
<rect x="618" y="549.205" width="6" height="3.5650000000000004" fill="#000"/>
<rect x="625" y="549.205" width="6" height="3.5650000000000004" fill="#000"/>
<rect x="632" y="549.205" width="7" height="3.5650000000000004" fill="#000"/>
<rect x="640" y="549.205" width="11" height="3.5650000000000004" fill="#000"/>
<text x="537.5" y="557.0350000000001" font-size="3.4" font-family='"Liberation Sans","Noto Sans CJK SC",sans-serif' font-weight="normal" text-anchor="middle" fill="#c4c4c4" >27</text>
<rect x="541" y="553.77" width="5" height="3.5650000000000004" fill="#000"/>
<rect x="547" y="553.77" width="18" height="3.5650000000000004" fill="#000"/>
<rect x="566" y="553.77" width="9" height="3.5650000000000004" fill="#000"/>
<rect x="576" y="553.77" width="8" height="3.5650000000000004" fill="#000"/>
<rect x="585" y="553.77" width="11" height="3.5650000000000004" fill="#000"/>
<rect x="597" y="553.77" width="2" height="3.5650000000000004" fill="#000"/>
<rect x="600" y="553.77" width="5" height="3.5650000000000004" fill="#000"/>
<rect x="606" y="553.77" width="11" height="3.5650000000000004" fill="#000"/>
<text x="606.2" y="557.235" font-size="4.6" font-family='"Liberation Sans","Noto Sans CJK SC",sans-serif' font-weight="bold" text-anchor="start" fill="#fff" textLength="7.9" lengthAdjust="spacingAndGlyphs" stroke="#fff" stroke-width="0.9" paint-order="stroke">橡胶</text>
<rect x="618" y="553.77" width="6" height="3.5650000000000004" fill="#000"/>
<rect x="625" y="553.77" width="6" height="3.5650000000000004" fill="#000"/>
<rect x="632" y="553.77" width="7" height="3.5650000000000004" fill="#000"/>
<rect x="640" y="553.77" width="11" height="3.5650000000000004" fill="#000"/>
<text x="537.5" y="561.6000000000001" font-size="3.4" font-family='"Liberation Sans","Noto Sans CJK SC",sans-serif' font-weight="normal" text-anchor="middle" fill="#c4c4c4" >26</text>
<rect x="541" y="558.335" width="5" height="3.5650000000000004" fill="#000"/>
<rect x="547" y="558.335" width="18" height="3.5650000000000004" fill="#000"/>
<rect x="566" y="558.335" width="9" height="3.5650000000000004" fill="#000"/>
<rect x="576" y="558.335" width="8" height="3.5650000000000004" fill="#000"/>
<rect x="585" y="558.335" width="11" height="3.5650000000000004" fill="#000"/>
<rect x="597" y="558.335" width="2" height="3.5650000000000004" fill="#000"/>
<rect x="600" y="558.335" width="5" height="3.5650000000000004" fill="#000"/>
<rect x="606" y="558.335" width="11" height="3.5650000000000004" fill="#000"/>
<rect x="618" y="558.335" width="6" height="3.5650000000000004" fill="#000"/>
<rect x="625" y="558.335" width="6" height="3.5650000000000004" fill="#000"/>
<rect x="632" y="558.335" width="7" height="3.5650000000000004" fill="#000"/>
<rect x="640" y="558.335" width="11" height="3.5650000000000004" fill="#000"/>
<text x="537.5" y="566.1650000000002" font-size="3.4" font-family='"Liberation Sans","Noto Sans CJK SC",sans-serif' font-weight="normal" text-anchor="middle" fill="#c4c4c4" >25</text>
<rect x="541" y="562.9000000000001" width="5" height="3.5650000000000004" fill="#000"/>
<rect x="547" y="562.9000000000001" width="18" height="3.5650000000000004" fill="#000"/>
<text x="547.2" y="566.3650000000001" font-size="4.8" font-family='"Liberation Sans","Noto Sans CJK SC",sans-serif' font-weight="bold" text-anchor="start" fill="#fff" textLength="15.8" lengthAdjust="spacingAndGlyphs" stroke="#fff" stroke-width="0.9" paint-order="stroke">出料口</text>
<rect x="566" y="562.9000000000001" width="9" height="3.5650000000000004" fill="#000"/>
<rect x="576" y="562.9000000000001" width="8" height="3.5650000000000004" fill="#000"/>
<rect x="585" y="562.9000000000001" width="11" height="3.5650000000000004" fill="#000"/>
<rect x="597" y="562.9000000000001" width="2" height="3.5650000000000004" fill="#000"/>
<rect x="600" y="562.9000000000001" width="5" height="3.5650000000000004" fill="#000"/>
<rect x="606" y="562.9000000000001" width="11" height="3.5650000000000004" fill="#000"/>
<text x="606.2" y="566.3650000000001" font-size="4.6" font-family='"Liberation Sans","Noto Sans CJK SC",sans-serif' font-weight="bold" text-anchor="start" fill="#fff" textLength="9.5" lengthAdjust="spacingAndGlyphs" stroke="#fff" stroke-width="0.9" paint-order="stroke">35</text>
<rect x="618" y="562.9000000000001" width="6" height="3.5650000000000004" fill="#000"/>
<rect x="625" y="562.9000000000001" width="6" height="3.5650000000000004" fill="#000"/>
<rect x="632" y="562.9000000000001" width="7" height="3.5650000000000004" fill="#000"/>
<rect x="640" y="562.9000000000001" width="11" height="3.5650000000000004" fill="#000"/>
<rect x="651" y="470.6" width="117" height="50.715" fill="#fff"/>
<text x="654.0" y="474.865" font-size="3.4" font-family='"Liberation Sans","Noto Sans CJK SC",sans-serif' font-weight="normal" text-anchor="middle" fill="#c4c4c4" >24</text>
<rect x="657" y="471.6" width="4" height="3.5650000000000004" fill="#000"/>
<rect x="662" y="471.6" width="14" height="3.5650000000000004" fill="#000"/>
<text x="662.2" y="475.065" font-size="4.8" font-family='"Liberation Sans","Noto Sans CJK SC",sans-serif' font-weight="bold" text-anchor="start" fill="#fff" textLength="8.8" lengthAdjust="spacingAndGlyphs" stroke="#fff" stroke-width="0.9" paint-order="stroke">螺钉M6</text>
<rect x="677" y="471.6" width="5" height="3.5650000000000004" fill="#000"/>
<rect x="683" y="471.6" width="11" height="3.5650000000000004" fill="#000"/>
<rect x="695" y="471.6" width="14" height="3.5650000000000004" fill="#000"/>
<rect x="710" y="471.6" width="6" height="3.5650000000000004" fill="#000"/>
<text x="713.0" y="475.065" font-size="4.8" font-family='"Liberation Sans","Noto Sans CJK SC",sans-serif' font-weight="bold" text-anchor="middle" fill="#fff" textLength="5" lengthAdjust="spacingAndGlyphs" stroke="#fff" stroke-width="0.9" paint-order="stroke">6</text>
<rect x="717" y="471.6" width="6" height="3.5650000000000004" fill="#000"/>
<rect x="724" y="471.6" width="10" height="3.5650000000000004" fill="#000"/>
<text x="724.2" y="475.065" font-size="4.6" font-family='"Liberation Sans","Noto Sans CJK SC",sans-serif' font-weight="bold" text-anchor="start" fill="#fff" textLength="9.5" lengthAdjust="spacingAndGlyphs" stroke="#fff" stroke-width="0.9" paint-order="stroke">Q235</text>
<rect x="735" y="471.6" width="6" height="3.5650000000000004" fill="#000"/>
<rect x="742" y="471.6" width="6" height="3.5650000000000004" fill="#000"/>
<rect x="749" y="471.6" width="7" height="3.5650000000000004" fill="#000"/>
<rect x="757" y="471.6" width="10" height="3.5650000000000004" fill="#000"/>
<text x="654.0" y="479.43" font-size="3.4" font-family='"Liberation Sans","Noto Sans CJK SC",sans-serif' font-weight="normal" text-anchor="middle" fill="#c4c4c4" >23</text>
<rect x="657" y="476.165" width="4" height="3.5650000000000004" fill="#000"/>
<rect x="662" y="476.165" width="14" height="3.5650000000000004" fill="#000"/>
<text x="662.2" y="479.63" font-size="4.8" font-family='"Liberation Sans","Noto Sans CJK SC",sans-serif' font-weight="bold" text-anchor="start" fill="#fff" textLength="13.5" lengthAdjust="spacingAndGlyphs" stroke="#fff" stroke-width="0.9" paint-order="stroke">压盖</text>
<rect x="677" y="476.165" width="5" height="3.5650000000000004" fill="#000"/>
<text x="677.2" y="479.63" font-size="4.6" font-family='"Liberation Sans","Noto Sans CJK SC",sans-serif' font-weight="bold" text-anchor="start" fill="#fff" textLength="4.5" lengthAdjust="spacingAndGlyphs" stroke="#fff" stroke-width="0.9" paint-order="stroke">XM-04</text>
<rect x="683" y="476.165" width="11" height="3.5650000000000004" fill="#000"/>
<rect x="695" y="476.165" width="14" height="3.5650000000000004" fill="#000"/>
<text x="695.2" y="479.63" font-size="4.8" font-family='"Liberation Sans","Noto Sans CJK SC",sans-serif' font-weight="bold" text-anchor="start" fill="#fff" textLength="13.5" lengthAdjust="spacingAndGlyphs" stroke="#fff" stroke-width="0.9" paint-order="stroke">压盖</text>
<rect x="710" y="476.165" width="6" height="3.5650000000000004" fill="#000"/>
<text x="713.0" y="479.63" font-size="4.8" font-family='"Liberation Sans","Noto Sans CJK SC",sans-serif' font-weight="bold" text-anchor="middle" fill="#fff" textLength="5" lengthAdjust="spacingAndGlyphs" stroke="#fff" stroke-width="0.9" paint-order="stroke">6</text>
<rect x="717" y="476.165" width="6" height="3.5650000000000004" fill="#000"/>
<rect x="724" y="476.165" width="10" height="3.5650000000000004" fill="#000"/>
<text x="724.2" y="479.63" font-size="4.6" font-family='"Liberation Sans","Noto Sans CJK SC",sans-serif' font-weight="bold" text-anchor="start" fill="#fff" textLength="9.5" lengthAdjust="spacingAndGlyphs" stroke="#fff" stroke-width="0.9" paint-order="stroke">ZG45</text>
<rect x="735" y="476.165" width="6" height="3.5650000000000004" fill="#000"/>
<rect x="742" y="476.165" width="6" height="3.5650000000000004" fill="#000"/>
<rect x="749" y="476.165" width="7" height="3.5650000000000004" fill="#000"/>
<rect x="757" y="476.165" width="10" height="3.5650000000000004" fill="#000"/>
<text x="654.0" y="483.995" font-size="3.4" font-family='"Liberation Sans","Noto Sans CJK SC",sans-serif' font-weight="normal" text-anchor="middle" fill="#c4c4c4" >22</text>
<rect x="657" y="480.73" width="4" height="3.5650000000000004" fill="#000"/>
<rect x="662" y="480.73" width="14" height="3.5650000000000004" fill="#000"/>
<text x="662.2" y="484.195" font-size="4.8" font-family='"Liberation Sans","Noto Sans CJK SC",sans-serif' font-weight="bold" text-anchor="start" fill="#fff" textLength="13.5" lengthAdjust="spacingAndGlyphs" stroke="#fff" stroke-width="0.9" paint-order="stroke">调节螺杆</text>
<rect x="677" y="480.73" width="5" height="3.5650000000000004" fill="#000"/>
<rect x="683" y="480.73" width="11" height="3.5650000000000004" fill="#000"/>
<rect x="695" y="480.73" width="14" height="3.5650000000000004" fill="#000"/>
<text x="695.2" y="484.195" font-size="4.8" font-family='"Liberation Sans","Noto Sans CJK SC",sans-serif' font-weight="bold" text-anchor="start" fill="#fff" textLength="13.5" lengthAdjust="spacingAndGlyphs" stroke="#fff" stroke-width="0.9" paint-order="stroke">调节螺杆</text>
<rect x="710" y="480.73" width="6" height="3.5650000000000004" fill="#000"/>
<text x="713.0" y="484.195" font-size="4.8" font-family='"Liberation Sans","Noto Sans CJK SC",sans-serif' font-weight="bold" text-anchor="middle" fill="#fff" textLength="5" lengthAdjust="spacingAndGlyphs" stroke="#fff" stroke-width="0.9" paint-order="stroke">8</text>
<rect x="717" y="480.73" width="6" height="3.5650000000000004" fill="#000"/>
<rect x="724" y="480.73" width="10" height="3.5650000000000004" fill="#000"/>
<text x="724.2" y="484.195" font-size="4.6" font-family='"Liberation Sans","Noto Sans CJK SC",sans-serif' font-weight="bold" text-anchor="start" fill="#fff" textLength="9.5" lengthAdjust="spacingAndGlyphs" stroke="#fff" stroke-width="0.9" paint-order="stroke">45</text>
<rect x="735" y="480.73" width="6" height="3.5650000000000004" fill="#000"/>
<rect x="742" y="480.73" width="6" height="3.5650000000000004" fill="#000"/>
<rect x="749" y="480.73" width="7" height="3.5650000000000004" fill="#000"/>
<rect x="757" y="480.73" width="10" height="3.5650000000000004" fill="#000"/>
<text x="654.0" y="488.56" font-size="3.4" font-family='"Liberation Sans","Noto Sans CJK SC",sans-serif' font-weight="normal" text-anchor="middle" fill="#c4c4c4" >21</text>
<rect x="657" y="485.295" width="4" height="3.5650000000000004" fill="#000"/>
<rect x="662" y="485.295" width="14" height="3.5650000000000004" fill="#000"/>
<text x="662.2" y="488.76" font-size="4.8" font-family='"Liberation Sans","Noto Sans CJK SC",sans-serif' font-weight="bold" text-anchor="start" fill="#fff" textLength="12.2" lengthAdjust="spacingAndGlyphs" stroke="#fff" stroke-width="0.9" paint-order="stroke">出料口</text>
<rect x="677" y="485.295" width="5" height="3.5650000000000004" fill="#000"/>
<text x="677.2" y="488.76" font-size="4.6" font-family='"Liberation Sans","Noto Sans CJK SC",sans-serif' font-weight="bold" text-anchor="start" fill="#fff" textLength="4.5" lengthAdjust="spacingAndGlyphs" stroke="#fff" stroke-width="0.9" paint-order="stroke">XM-03</text>
<rect x="683" y="485.295" width="11" height="3.5650000000000004" fill="#000"/>
<rect x="695" y="485.295" width="14" height="3.5650000000000004" fill="#000"/>
<text x="695.2" y="488.76" font-size="4.8" font-family='"Liberation Sans","Noto Sans CJK SC",sans-serif' font-weight="bold" text-anchor="start" fill="#fff" textLength="12.2" lengthAdjust="spacingAndGlyphs" stroke="#fff" stroke-width="0.9" paint-order="stroke">出料口</text>
<rect x="710" y="485.295" width="6" height="3.5650000000000004" fill="#000"/>
<text x="713.0" y="488.76" font-size="4.8" font-family='"Liberation Sans","Noto Sans CJK SC",sans-serif' font-weight="bold" text-anchor="middle" fill="#fff" textLength="5" lengthAdjust="spacingAndGlyphs" stroke="#fff" stroke-width="0.9" paint-order="stroke">2</text>
<rect x="717" y="485.295" width="6" height="3.5650000000000004" fill="#000"/>
<rect x="724" y="485.295" width="10" height="3.5650000000000004" fill="#000"/>
<text x="724.2" y="488.76" font-size="4.6" font-family='"Liberation Sans","Noto Sans CJK SC",sans-serif' font-weight="bold" text-anchor="start" fill="#fff" textLength="9.5" lengthAdjust="spacingAndGlyphs" stroke="#fff" stroke-width="0.9" paint-order="stroke">毛毡</text>
<rect x="735" y="485.295" width="6" height="3.5650000000000004" fill="#000"/>
<rect x="742" y="485.295" width="6" height="3.5650000000000004" fill="#000"/>
<rect x="749" y="485.295" width="7" height="3.5650000000000004" fill="#000"/>
<rect x="757" y="485.295" width="10" height="3.5650000000000004" fill="#000"/>
<text x="654.0" y="493.125" font-size="3.4" font-family='"Liberation Sans","Noto Sans CJK SC",sans-serif' font-weight="normal" text-anchor="middle" fill="#c4c4c4" >20</text>
<rect x="657" y="489.86" width="4" height="3.5650000000000004" fill="#000"/>
<rect x="662" y="489.86" width="14" height="3.5650000000000004" fill="#000"/>
<text x="662.2" y="493.325" font-size="4.8" font-family='"Liberation Sans","Noto Sans CJK SC",sans-serif' font-weight="bold" text-anchor="start" fill="#fff" textLength="12.2" lengthAdjust="spacingAndGlyphs" stroke="#fff" stroke-width="0.9" paint-order="stroke">三角带</text>
<rect x="677" y="489.86" width="5" height="3.5650000000000004" fill="#000"/>
<rect x="683" y="489.86" width="11" height="3.5650000000000004" fill="#000"/>
<rect x="695" y="489.86" width="14" height="3.5650000000000004" fill="#000"/>
<text x="695.2" y="493.325" font-size="4.8" font-family='"Liberation Sans","Noto Sans CJK SC",sans-serif' font-weight="bold" text-anchor="start" fill="#fff" textLength="13.5" lengthAdjust="spacingAndGlyphs" stroke="#fff" stroke-width="0.9" paint-order="stroke">三角带</text>
<rect x="710" y="489.86" width="6" height="3.5650000000000004" fill="#000"/>
<text x="713.0" y="493.325" font-size="4.8" font-family='"Liberation Sans","Noto Sans CJK SC",sans-serif' font-weight="bold" text-anchor="middle" fill="#fff" textLength="5" lengthAdjust="spacingAndGlyphs" stroke="#fff" stroke-width="0.9" paint-order="stroke">4</text>
<rect x="717" y="489.86" width="6" height="3.5650000000000004" fill="#000"/>
<rect x="724" y="489.86" width="10" height="3.5650000000000004" fill="#000"/>
<text x="724.2" y="493.325" font-size="4.6" font-family='"Liberation Sans","Noto Sans CJK SC",sans-serif' font-weight="bold" text-anchor="start" fill="#fff" textLength="8.6" lengthAdjust="spacingAndGlyphs" stroke="#fff" stroke-width="0.9" paint-order="stroke">65Mn</text>
<rect x="735" y="489.86" width="6" height="3.5650000000000004" fill="#000"/>
<rect x="742" y="489.86" width="6" height="3.5650000000000004" fill="#000"/>
<rect x="749" y="489.86" width="7" height="3.5650000000000004" fill="#000"/>
<rect x="757" y="489.86" width="10" height="3.5650000000000004" fill="#000"/>
<text x="654.0" y="497.69" font-size="3.4" font-family='"Liberation Sans","Noto Sans CJK SC",sans-serif' font-weight="normal" text-anchor="middle" fill="#c4c4c4" >19</text>
<rect x="657" y="494.425" width="4" height="3.5650000000000004" fill="#000"/>
<rect x="662" y="494.425" width="14" height="3.5650000000000004" fill="#000"/>
<text x="662.2" y="497.89" font-size="4.8" font-family='"Liberation Sans","Noto Sans CJK SC",sans-serif' font-weight="bold" text-anchor="start" fill="#fff" textLength="13.5" lengthAdjust="spacingAndGlyphs" stroke="#fff" stroke-width="0.9" paint-order="stroke">静磨盘</text>
<rect x="677" y="494.425" width="5" height="3.5650000000000004" fill="#000"/>
<rect x="683" y="494.425" width="11" height="3.5650000000000004" fill="#000"/>
<rect x="695" y="494.425" width="14" height="3.5650000000000004" fill="#000"/>
<rect x="710" y="494.425" width="6" height="3.5650000000000004" fill="#000"/>
<text x="713.0" y="497.89" font-size="4.8" font-family='"Liberation Sans","Noto Sans CJK SC",sans-serif' font-weight="bold" text-anchor="middle" fill="#fff" textLength="5" lengthAdjust="spacingAndGlyphs" stroke="#fff" stroke-width="0.9" paint-order="stroke">4</text>
<rect x="717" y="494.425" width="6" height="3.5650000000000004" fill="#000"/>
<rect x="724" y="494.425" width="10" height="3.5650000000000004" fill="#000"/>
<text x="724.2" y="497.89" font-size="4.6" font-family='"Liberation Sans","Noto Sans CJK SC",sans-serif' font-weight="bold" text-anchor="start" fill="#fff" textLength="9.5" lengthAdjust="spacingAndGlyphs" stroke="#fff" stroke-width="0.9" paint-order="stroke">Q235</text>
<rect x="735" y="494.425" width="6" height="3.5650000000000004" fill="#000"/>
<rect x="742" y="494.425" width="6" height="3.5650000000000004" fill="#000"/>
<rect x="749" y="494.425" width="7" height="3.5650000000000004" fill="#000"/>
<rect x="757" y="494.425" width="10" height="3.5650000000000004" fill="#000"/>
<text x="654.0" y="502.255" font-size="3.4" font-family='"Liberation Sans","Noto Sans CJK SC",sans-serif' font-weight="normal" text-anchor="middle" fill="#c4c4c4" >18</text>
<rect x="657" y="498.99" width="4" height="3.5650000000000004" fill="#000"/>
<rect x="662" y="498.99" width="14" height="3.5650000000000004" fill="#000"/>
<text x="662.2" y="502.455" font-size="4.8" font-family='"Liberation Sans","Noto Sans CJK SC",sans-serif' font-weight="bold" text-anchor="start" fill="#fff" textLength="10.8" lengthAdjust="spacingAndGlyphs" stroke="#fff" stroke-width="0.9" paint-order="stroke">吊环</text>
<rect x="677" y="498.99" width="5" height="3.5650000000000004" fill="#000"/>
<text x="677.2" y="502.455" font-size="4.6" font-family='"Liberation Sans","Noto Sans CJK SC",sans-serif' font-weight="bold" text-anchor="start" fill="#fff" textLength="3.6" lengthAdjust="spacingAndGlyphs" stroke="#fff" stroke-width="0.9" paint-order="stroke">XM-08</text>
<rect x="683" y="498.99" width="11" height="3.5650000000000004" fill="#000"/>
<rect x="695" y="498.99" width="14" height="3.5650000000000004" fill="#000"/>
<text x="695.2" y="502.455" font-size="4.8" font-family='"Liberation Sans","Noto Sans CJK SC",sans-serif' font-weight="bold" text-anchor="start" fill="#fff" textLength="13.5" lengthAdjust="spacingAndGlyphs" stroke="#fff" stroke-width="0.9" paint-order="stroke">吊环</text>
<rect x="710" y="498.99" width="6" height="3.5650000000000004" fill="#000"/>
<text x="713.0" y="502.455" font-size="4.8" font-family='"Liberation Sans","Noto Sans CJK SC",sans-serif' font-weight="bold" text-anchor="middle" fill="#fff" textLength="5" lengthAdjust="spacingAndGlyphs" stroke="#fff" stroke-width="0.9" paint-order="stroke">8</text>
<rect x="717" y="498.99" width="6" height="3.5650000000000004" fill="#000"/>
<rect x="724" y="498.99" width="10" height="3.5650000000000004" fill="#000"/>
<text x="724.2" y="502.455" font-size="4.6" font-family='"Liberation Sans","Noto Sans CJK SC",sans-serif' font-weight="bold" text-anchor="start" fill="#fff" textLength="9.5" lengthAdjust="spacingAndGlyphs" stroke="#fff" stroke-width="0.9" paint-order="stroke">ZG45</text>
<rect x="735" y="498.99" width="6" height="3.5650000000000004" fill="#000"/>
<rect x="742" y="498.99" width="6" height="3.5650000000000004" fill="#000"/>
<rect x="749" y="498.99" width="7" height="3.5650000000000004" fill="#000"/>
<rect x="757" y="498.99" width="10" height="3.5650000000000004" fill="#000"/>
<text x="654.0" y="506.82" font-size="3.4" font-family='"Liberation Sans","Noto Sans CJK SC",sans-serif' font-weight="normal" text-anchor="middle" fill="#c4c4c4" >17</text>
<rect x="657" y="503.555" width="4" height="3.5650000000000004" fill="#000"/>
<rect x="662" y="503.555" width="14" height="3.5650000000000004" fill="#000"/>
<text x="662.2" y="507.02" font-size="4.8" font-family='"Liberation Sans","Noto Sans CJK SC",sans-serif' font-weight="bold" text-anchor="start" fill="#fff" textLength="8.8" lengthAdjust="spacingAndGlyphs" stroke="#fff" stroke-width="0.9" paint-order="stroke">筛网</text>
<rect x="677" y="503.555" width="5" height="3.5650000000000004" fill="#000"/>
<text x="677.2" y="507.02" font-size="4.6" font-family='"Liberation Sans","Noto Sans CJK SC",sans-serif' font-weight="bold" text-anchor="start" fill="#fff" textLength="3.6" lengthAdjust="spacingAndGlyphs" stroke="#fff" stroke-width="0.9" paint-order="stroke">XM-07</text>
<rect x="683" y="503.555" width="11" height="3.5650000000000004" fill="#000"/>
<rect x="695" y="503.555" width="14" height="3.5650000000000004" fill="#000"/>
<text x="695.2" y="507.02" font-size="4.8" font-family='"Liberation Sans","Noto Sans CJK SC",sans-serif' font-weight="bold" text-anchor="start" fill="#fff" textLength="12.2" lengthAdjust="spacingAndGlyphs" stroke="#fff" stroke-width="0.9" paint-order="stroke">筛网</text>
<rect x="710" y="503.555" width="6" height="3.5650000000000004" fill="#000"/>
<text x="713.0" y="507.02" font-size="4.8" font-family='"Liberation Sans","Noto Sans CJK SC",sans-serif' font-weight="bold" text-anchor="middle" fill="#fff" textLength="5" lengthAdjust="spacingAndGlyphs" stroke="#fff" stroke-width="0.9" paint-order="stroke">8</text>
<rect x="717" y="503.555" width="6" height="3.5650000000000004" fill="#000"/>
<rect x="724" y="503.555" width="10" height="3.5650000000000004" fill="#000"/>
<text x="724.2" y="507.02" font-size="4.6" font-family='"Liberation Sans","Noto Sans CJK SC",sans-serif' font-weight="bold" text-anchor="start" fill="#fff" textLength="7.1" lengthAdjust="spacingAndGlyphs" stroke="#fff" stroke-width="0.9" paint-order="stroke">45</text>
<rect x="735" y="503.555" width="6" height="3.5650000000000004" fill="#000"/>
<rect x="742" y="503.555" width="6" height="3.5650000000000004" fill="#000"/>
<rect x="749" y="503.555" width="7" height="3.5650000000000004" fill="#000"/>
<rect x="757" y="503.555" width="10" height="3.5650000000000004" fill="#000"/>
<text x="654.0" y="511.385" font-size="3.4" font-family='"Liberation Sans","Noto Sans CJK SC",sans-serif' font-weight="normal" text-anchor="middle" fill="#c4c4c4" >16</text>
<rect x="657" y="508.12" width="4" height="3.5650000000000004" fill="#000"/>
<rect x="662" y="508.12" width="14" height="3.5650000000000004" fill="#000"/>
<text x="662.2" y="511.585" font-size="4.8" font-family='"Liberation Sans","Noto Sans CJK SC",sans-serif' font-weight="bold" text-anchor="start" fill="#fff" textLength="8.8" lengthAdjust="spacingAndGlyphs" stroke="#fff" stroke-width="0.9" paint-order="stroke">法兰</text>
<rect x="677" y="508.12" width="5" height="3.5650000000000004" fill="#000"/>
<text x="677.2" y="511.585" font-size="4.6" font-family='"Liberation Sans","Noto Sans CJK SC",sans-serif' font-weight="bold" text-anchor="start" fill="#fff" textLength="2.7" lengthAdjust="spacingAndGlyphs" stroke="#fff" stroke-width="0.9" paint-order="stroke">GB276</text>
<rect x="683" y="508.12" width="11" height="3.5650000000000004" fill="#000"/>
<rect x="695" y="508.12" width="14" height="3.5650000000000004" fill="#000"/>
<text x="695.2" y="511.585" font-size="4.8" font-family='"Liberation Sans","Noto Sans CJK SC",sans-serif' font-weight="bold" text-anchor="start" fill="#fff" textLength="13.5" lengthAdjust="spacingAndGlyphs" stroke="#fff" stroke-width="0.9" paint-order="stroke">法兰</text>
<rect x="710" y="508.12" width="6" height="3.5650000000000004" fill="#000"/>
<text x="713.0" y="511.585" font-size="4.8" font-family='"Liberation Sans","Noto Sans CJK SC",sans-serif' font-weight="bold" text-anchor="middle" fill="#fff" textLength="5" lengthAdjust="spacingAndGlyphs" stroke="#fff" stroke-width="0.9" paint-order="stroke">1</text>
<rect x="717" y="508.12" width="6" height="3.5650000000000004" fill="#000"/>
<rect x="724" y="508.12" width="10" height="3.5650000000000004" fill="#000"/>
<text x="724.2" y="511.585" font-size="4.6" font-family='"Liberation Sans","Noto Sans CJK SC",sans-serif' font-weight="bold" text-anchor="start" fill="#fff" textLength="7.1" lengthAdjust="spacingAndGlyphs" stroke="#fff" stroke-width="0.9" paint-order="stroke">毛毡</text>
<rect x="735" y="508.12" width="6" height="3.5650000000000004" fill="#000"/>
<rect x="742" y="508.12" width="6" height="3.5650000000000004" fill="#000"/>
<rect x="749" y="508.12" width="7" height="3.5650000000000004" fill="#000"/>
<rect x="757" y="508.12" width="10" height="3.5650000000000004" fill="#000"/>
<text x="654.0" y="515.95" font-size="3.4" font-family='"Liberation Sans","Noto Sans CJK SC",sans-serif' font-weight="normal" text-anchor="middle" fill="#c4c4c4" >15</text>
<rect x="657" y="512.685" width="4" height="3.5650000000000004" fill="#000"/>
<rect x="662" y="512.685" width="14" height="3.5650000000000004" fill="#000"/>
<text x="662.2" y="516.15" font-size="4.8" font-family='"Liberation Sans","Noto Sans CJK SC",sans-serif' font-weight="bold" text-anchor="start" fill="#fff" textLength="13.5" lengthAdjust="spacingAndGlyphs" stroke="#fff" stroke-width="0.9" paint-order="stroke">底板</text>
<rect x="677" y="512.685" width="5" height="3.5650000000000004" fill="#000"/>
<text x="677.2" y="516.15" font-size="4.6" font-family='"Liberation Sans","Noto Sans CJK SC",sans-serif' font-weight="bold" text-anchor="start" fill="#fff" textLength="2.7" lengthAdjust="spacingAndGlyphs" stroke="#fff" stroke-width="0.9" paint-order="stroke">XM-04</text>
<rect x="683" y="512.685" width="11" height="3.5650000000000004" fill="#000"/>
<rect x="695" y="512.685" width="14" height="3.5650000000000004" fill="#000"/>
<text x="695.2" y="516.15" font-size="4.8" font-family='"Liberation Sans","Noto Sans CJK SC",sans-serif' font-weight="bold" text-anchor="start" fill="#fff" textLength="8.8" lengthAdjust="spacingAndGlyphs" stroke="#fff" stroke-width="0.9" paint-order="stroke">底板</text>
<rect x="710" y="512.685" width="6" height="3.5650000000000004" fill="#000"/>
<text x="713.0" y="516.15" font-size="4.8" font-family='"Liberation Sans","Noto Sans CJK SC",sans-serif' font-weight="bold" text-anchor="middle" fill="#fff" textLength="5" lengthAdjust="spacingAndGlyphs" stroke="#fff" stroke-width="0.9" paint-order="stroke">2</text>
<rect x="717" y="512.685" width="6" height="3.5650000000000004" fill="#000"/>
<rect x="724" y="512.685" width="10" height="3.5650000000000004" fill="#000"/>
<text x="724.2" y="516.15" font-size="4.6" font-family='"Liberation Sans","Noto Sans CJK SC",sans-serif' font-weight="bold" text-anchor="start" fill="#fff" textLength="9.5" lengthAdjust="spacingAndGlyphs" stroke="#fff" stroke-width="0.9" paint-order="stroke">65Mn</text>
<rect x="735" y="512.685" width="6" height="3.5650000000000004" fill="#000"/>
<rect x="742" y="512.685" width="6" height="3.5650000000000004" fill="#000"/>
<rect x="749" y="512.685" width="7" height="3.5650000000000004" fill="#000"/>
<rect x="757" y="512.685" width="10" height="3.5650000000000004" fill="#000"/>
<text x="654.0" y="520.5150000000001" font-size="3.4" font-family='"Liberation Sans","Noto Sans CJK SC",sans-serif' font-weight="normal" text-anchor="middle" fill="#c4c4c4" >14</text>
<rect x="657" y="517.25" width="4" height="3.5650000000000004" fill="#000"/>
<rect x="662" y="517.25" width="14" height="3.5650000000000004" fill="#000"/>
<rect x="677" y="517.25" width="5" height="3.5650000000000004" fill="#000"/>
<text x="677.2" y="520.715" font-size="4.6" font-family='"Liberation Sans","Noto Sans CJK SC",sans-serif' font-weight="bold" text-anchor="start" fill="#fff" textLength="2.7" lengthAdjust="spacingAndGlyphs" stroke="#fff" stroke-width="0.9" paint-order="stroke">GB6170</text>
<rect x="683" y="517.25" width="11" height="3.5650000000000004" fill="#000"/>
<rect x="695" y="517.25" width="14" height="3.5650000000000004" fill="#000"/>
<text x="695.2" y="520.715" font-size="4.8" font-family='"Liberation Sans","Noto Sans CJK SC",sans-serif' font-weight="bold" text-anchor="start" fill="#fff" textLength="10.8" lengthAdjust="spacingAndGlyphs" stroke="#fff" stroke-width="0.9" paint-order="stroke">密封圈</text>
<rect x="710" y="517.25" width="6" height="3.5650000000000004" fill="#000"/>
<text x="713.0" y="520.715" font-size="4.8" font-family='"Liberation Sans","Noto Sans CJK SC",sans-serif' font-weight="bold" text-anchor="middle" fill="#fff" textLength="5" lengthAdjust="spacingAndGlyphs" stroke="#fff" stroke-width="0.9" paint-order="stroke">8</text>
<rect x="717" y="517.25" width="6" height="3.5650000000000004" fill="#000"/>
<rect x="724" y="517.25" width="10" height="3.5650000000000004" fill="#000"/>
<text x="724.2" y="520.715" font-size="4.6" font-family='"Liberation Sans","Noto Sans CJK SC",sans-serif' font-weight="bold" text-anchor="start" fill="#fff" textLength="7.1" lengthAdjust="spacingAndGlyphs" stroke="#fff" stroke-width="0.9" paint-order="stroke">Q235</text>
<rect x="735" y="517.25" width="6" height="3.5650000000000004" fill="#000"/>
<rect x="742" y="517.25" width="6" height="3.5650000000000004" fill="#000"/>
<rect x="749" y="517.25" width="7" height="3.5650000000000004" fill="#000"/>
<rect x="757" y="517.25" width="10" height="3.5650000000000004" fill="#000"/>
<rect x="417" y="525.4" width="118" height="41.585" fill="#fff"/>
<text x="420.5" y="529.6650000000001" font-size="3.4" font-family='"Liberation Sans","Noto Sans CJK SC",sans-serif' font-weight="normal" text-anchor="middle" fill="#c4c4c4" >54</text>
<rect x="424" y="526.4" width="4" height="3.5650000000000004" fill="#000"/>
<rect x="429" y="526.4" width="11" height="3.5650000000000004" fill="#000"/>
<text x="429.2" y="529.865" font-size="4.6" font-family='"Liberation Sans","Noto Sans CJK SC",sans-serif' font-weight="bold" text-anchor="start" fill="#fff" textLength="10.5" lengthAdjust="spacingAndGlyphs" stroke="#fff" stroke-width="0.9" paint-order="stroke">Q235</text>
<rect x="441" y="526.4" width="4" height="3.5650000000000004" fill="#000"/>
<text x="441.2" y="529.865" font-size="4.6" font-family='"Liberation Sans","Noto Sans CJK SC",sans-serif' font-weight="bold" text-anchor="start" fill="#fff" textLength="3.5" lengthAdjust="spacingAndGlyphs" stroke="#fff" stroke-width="0.9" paint-order="stroke">XM-03</text>
<rect x="446" y="526.4" width="20" height="3.5650000000000004" fill="#000"/>
<rect x="467" y="526.4" width="10" height="3.5650000000000004" fill="#000"/>
<rect x="478" y="526.4" width="4" height="3.5650000000000004" fill="#000"/>
<text x="480.0" y="529.865" font-size="4.8" font-family='"Liberation Sans","Noto Sans CJK SC",sans-serif' font-weight="bold" text-anchor="middle" fill="#fff" textLength="3" lengthAdjust="spacingAndGlyphs" stroke="#fff" stroke-width="0.9" paint-order="stroke">1</text>
<rect x="483" y="526.4" width="5" height="3.5650000000000004" fill="#000"/>
<rect x="489" y="526.4" width="12" height="3.5650000000000004" fill="#000"/>
<rect x="502" y="526.4" width="6" height="3.5650000000000004" fill="#000"/>
<rect x="509" y="526.4" width="6" height="3.5650000000000004" fill="#000"/>
<rect x="516" y="526.4" width="7" height="3.5650000000000004" fill="#000"/>
<rect x="524" y="526.4" width="10" height="3.5650000000000004" fill="#000"/>
<text x="420.5" y="534.2300000000001" font-size="3.4" font-family='"Liberation Sans","Noto Sans CJK SC",sans-serif' font-weight="normal" text-anchor="middle" fill="#c4c4c4" >53</text>
<rect x="424" y="530.965" width="4" height="3.5650000000000004" fill="#000"/>
<rect x="429" y="530.965" width="11" height="3.5650000000000004" fill="#000"/>
<text x="429.2" y="534.4300000000001" font-size="4.6" font-family='"Liberation Sans","Noto Sans CJK SC",sans-serif' font-weight="bold" text-anchor="start" fill="#fff" textLength="9.5" lengthAdjust="spacingAndGlyphs" stroke="#fff" stroke-width="0.9" paint-order="stroke">ZG45</text>
<rect x="441" y="530.965" width="4" height="3.5650000000000004" fill="#000"/>
<rect x="446" y="530.965" width="20" height="3.5650000000000004" fill="#000"/>
<text x="446.2" y="534.4300000000001" font-size="4.8" font-family='"Liberation Sans","Noto Sans CJK SC",sans-serif' font-weight="bold" text-anchor="start" fill="#fff" textLength="19.5" lengthAdjust="spacingAndGlyphs" stroke="#fff" stroke-width="0.9" paint-order="stroke">螺栓M8</text>
<rect x="467" y="530.965" width="10" height="3.5650000000000004" fill="#000"/>
<rect x="478" y="530.965" width="4" height="3.5650000000000004" fill="#000"/>
<text x="480.0" y="534.4300000000001" font-size="4.8" font-family='"Liberation Sans","Noto Sans CJK SC",sans-serif' font-weight="bold" text-anchor="middle" fill="#fff" textLength="3" lengthAdjust="spacingAndGlyphs" stroke="#fff" stroke-width="0.9" paint-order="stroke">8</text>
<rect x="483" y="530.965" width="5" height="3.5650000000000004" fill="#000"/>
<rect x="489" y="530.965" width="12" height="3.5650000000000004" fill="#000"/>
<text x="489.2" y="534.4300000000001" font-size="4.6" font-family='"Liberation Sans","Noto Sans CJK SC",sans-serif' font-weight="bold" text-anchor="start" fill="#fff" textLength="8.6" lengthAdjust="spacingAndGlyphs" stroke="#fff" stroke-width="0.9" paint-order="stroke">ZG45</text>
<rect x="502" y="530.965" width="6" height="3.5650000000000004" fill="#000"/>
<rect x="509" y="530.965" width="6" height="3.5650000000000004" fill="#000"/>
<rect x="516" y="530.965" width="7" height="3.5650000000000004" fill="#000"/>
<rect x="524" y="530.965" width="10" height="3.5650000000000004" fill="#000"/>
<text x="420.5" y="538.7950000000001" font-size="3.4" font-family='"Liberation Sans","Noto Sans CJK SC",sans-serif' font-weight="normal" text-anchor="middle" fill="#c4c4c4" >52</text>
<rect x="424" y="535.53" width="4" height="3.5650000000000004" fill="#000"/>
<rect x="429" y="535.53" width="11" height="3.5650000000000004" fill="#000"/>
<text x="429.2" y="538.995" font-size="4.6" font-family='"Liberation Sans","Noto Sans CJK SC",sans-serif' font-weight="bold" text-anchor="start" fill="#fff" textLength="10.5" lengthAdjust="spacingAndGlyphs" stroke="#fff" stroke-width="0.9" paint-order="stroke">45</text>
<rect x="441" y="535.53" width="4" height="3.5650000000000004" fill="#000"/>
<rect x="446" y="535.53" width="20" height="3.5650000000000004" fill="#000"/>
<text x="446.2" y="538.995" font-size="4.8" font-family='"Liberation Sans","Noto Sans CJK SC",sans-serif' font-weight="bold" text-anchor="start" fill="#fff" textLength="19.5" lengthAdjust="spacingAndGlyphs" stroke="#fff" stroke-width="0.9" paint-order="stroke">轴承座</text>
<rect x="467" y="535.53" width="10" height="3.5650000000000004" fill="#000"/>
<rect x="478" y="535.53" width="4" height="3.5650000000000004" fill="#000"/>
<text x="480.0" y="538.995" font-size="4.8" font-family='"Liberation Sans","Noto Sans CJK SC",sans-serif' font-weight="bold" text-anchor="middle" fill="#fff" textLength="3" lengthAdjust="spacingAndGlyphs" stroke="#fff" stroke-width="0.9" paint-order="stroke">4</text>
<rect x="483" y="535.53" width="5" height="3.5650000000000004" fill="#000"/>
<text x="483.2" y="538.995" font-size="4.6" font-family='"Liberation Sans","Noto Sans CJK SC",sans-serif' font-weight="bold" text-anchor="start" fill="#fff" textLength="2.7" lengthAdjust="spacingAndGlyphs" stroke="#fff" stroke-width="0.9" paint-order="stroke">GB97</text>
<rect x="489" y="535.53" width="12" height="3.5650000000000004" fill="#000"/>
<rect x="502" y="535.53" width="6" height="3.5650000000000004" fill="#000"/>
<rect x="509" y="535.53" width="6" height="3.5650000000000004" fill="#000"/>
<rect x="516" y="535.53" width="7" height="3.5650000000000004" fill="#000"/>
<rect x="524" y="535.53" width="10" height="3.5650000000000004" fill="#000"/>
<text x="420.5" y="543.3600000000001" font-size="3.4" font-family='"Liberation Sans","Noto Sans CJK SC",sans-serif' font-weight="normal" text-anchor="middle" fill="#c4c4c4" >51</text>
<rect x="424" y="540.095" width="4" height="3.5650000000000004" fill="#000"/>
<rect x="429" y="540.095" width="11" height="3.5650000000000004" fill="#000"/>
<text x="429.2" y="543.5600000000001" font-size="4.6" font-family='"Liberation Sans","Noto Sans CJK SC",sans-serif' font-weight="bold" text-anchor="start" fill="#fff" textLength="10.5" lengthAdjust="spacingAndGlyphs" stroke="#fff" stroke-width="0.9" paint-order="stroke">毛毡</text>
<rect x="441" y="540.095" width="4" height="3.5650000000000004" fill="#000"/>
<rect x="446" y="540.095" width="20" height="3.5650000000000004" fill="#000"/>
<text x="446.2" y="543.5600000000001" font-size="4.8" font-family='"Liberation Sans","Noto Sans CJK SC",sans-serif' font-weight="bold" text-anchor="start" fill="#fff" textLength="19.5" lengthAdjust="spacingAndGlyphs" stroke="#fff" stroke-width="0.9" paint-order="stroke">料斗</text>
<rect x="467" y="540.095" width="10" height="3.5650000000000004" fill="#000"/>
<rect x="478" y="540.095" width="4" height="3.5650000000000004" fill="#000"/>
<text x="480.0" y="543.5600000000001" font-size="4.8" font-family='"Liberation Sans","Noto Sans CJK SC",sans-serif' font-weight="bold" text-anchor="middle" fill="#fff" textLength="3" lengthAdjust="spacingAndGlyphs" stroke="#fff" stroke-width="0.9" paint-order="stroke">6</text>
<rect x="483" y="540.095" width="5" height="3.5650000000000004" fill="#000"/>
<rect x="489" y="540.095" width="12" height="3.5650000000000004" fill="#000"/>
<text x="489.2" y="543.5600000000001" font-size="4.6" font-family='"Liberation Sans","Noto Sans CJK SC",sans-serif' font-weight="bold" text-anchor="start" fill="#fff" textLength="8.6" lengthAdjust="spacingAndGlyphs" stroke="#fff" stroke-width="0.9" paint-order="stroke">毛毡</text>
<rect x="502" y="540.095" width="6" height="3.5650000000000004" fill="#000"/>
<rect x="509" y="540.095" width="6" height="3.5650000000000004" fill="#000"/>
<rect x="516" y="540.095" width="7" height="3.5650000000000004" fill="#000"/>
<rect x="524" y="540.095" width="10" height="3.5650000000000004" fill="#000"/>
<text x="420.5" y="547.9250000000001" font-size="3.4" font-family='"Liberation Sans","Noto Sans CJK SC",sans-serif' font-weight="normal" text-anchor="middle" fill="#c4c4c4" >50</text>
<rect x="424" y="544.66" width="4" height="3.5650000000000004" fill="#000"/>
<rect x="429" y="544.66" width="11" height="3.5650000000000004" fill="#000"/>
<text x="429.2" y="548.125" font-size="4.6" font-family='"Liberation Sans","Noto Sans CJK SC",sans-serif' font-weight="bold" text-anchor="start" fill="#fff" textLength="10.5" lengthAdjust="spacingAndGlyphs" stroke="#fff" stroke-width="0.9" paint-order="stroke">65Mn</text>
<rect x="441" y="544.66" width="4" height="3.5650000000000004" fill="#000"/>
<text x="441.2" y="548.125" font-size="4.6" font-family='"Liberation Sans","Noto Sans CJK SC",sans-serif' font-weight="bold" text-anchor="start" fill="#fff" textLength="3.5" lengthAdjust="spacingAndGlyphs" stroke="#fff" stroke-width="0.9" paint-order="stroke">XM-07</text>
<rect x="446" y="544.66" width="20" height="3.5650000000000004" fill="#000"/>
<text x="446.2" y="548.125" font-size="4.8" font-family='"Liberation Sans","Noto Sans CJK SC",sans-serif' font-weight="bold" text-anchor="start" fill="#fff" textLength="19.5" lengthAdjust="spacingAndGlyphs" stroke="#fff" stroke-width="0.9" paint-order="stroke">隔环</text>
<rect x="467" y="544.66" width="10" height="3.5650000000000004" fill="#000"/>
<rect x="478" y="544.66" width="4" height="3.5650000000000004" fill="#000"/>
<text x="480.0" y="548.125" font-size="4.8" font-family='"Liberation Sans","Noto Sans CJK SC",sans-serif' font-weight="bold" text-anchor="middle" fill="#fff" textLength="3" lengthAdjust="spacingAndGlyphs" stroke="#fff" stroke-width="0.9" paint-order="stroke">1</text>
<rect x="483" y="544.66" width="5" height="3.5650000000000004" fill="#000"/>
<text x="483.2" y="548.125" font-size="4.6" font-family='"Liberation Sans","Noto Sans CJK SC",sans-serif' font-weight="bold" text-anchor="start" fill="#fff" textLength="2.7" lengthAdjust="spacingAndGlyphs" stroke="#fff" stroke-width="0.9" paint-order="stroke">XM-07</text>
<rect x="489" y="544.66" width="12" height="3.5650000000000004" fill="#000"/>
<text x="489.2" y="548.125" font-size="4.6" font-family='"Liberation Sans","Noto Sans CJK SC",sans-serif' font-weight="bold" text-anchor="start" fill="#fff" textLength="11.5" lengthAdjust="spacingAndGlyphs" stroke="#fff" stroke-width="0.9" paint-order="stroke">65Mn</text>
<rect x="502" y="544.66" width="6" height="3.5650000000000004" fill="#000"/>
<rect x="509" y="544.66" width="6" height="3.5650000000000004" fill="#000"/>
<rect x="516" y="544.66" width="7" height="3.5650000000000004" fill="#000"/>
<rect x="524" y="544.66" width="10" height="3.5650000000000004" fill="#000"/>
<text x="420.5" y="552.4900000000001" font-size="3.4" font-family='"Liberation Sans","Noto Sans CJK SC",sans-serif' font-weight="normal" text-anchor="middle" fill="#c4c4c4" >49</text>
<rect x="424" y="549.225" width="4" height="3.5650000000000004" fill="#000"/>
<rect x="429" y="549.225" width="11" height="3.5650000000000004" fill="#000"/>
<text x="429.2" y="552.69" font-size="4.6" font-family='"Liberation Sans","Noto Sans CJK SC",sans-serif' font-weight="bold" text-anchor="start" fill="#fff" textLength="10.5" lengthAdjust="spacingAndGlyphs" stroke="#fff" stroke-width="0.9" paint-order="stroke">Q235</text>
<rect x="441" y="549.225" width="4" height="3.5650000000000004" fill="#000"/>
<rect x="446" y="549.225" width="20" height="3.5650000000000004" fill="#000"/>
<text x="446.2" y="552.69" font-size="4.8" font-family='"Liberation Sans","Noto Sans CJK SC",sans-serif' font-weight="bold" text-anchor="start" fill="#fff" textLength="15.6" lengthAdjust="spacingAndGlyphs" stroke="#fff" stroke-width="0.9" paint-order="stroke">螺钉M6</text>
<rect x="467" y="549.225" width="10" height="3.5650000000000004" fill="#000"/>
<rect x="478" y="549.225" width="4" height="3.5650000000000004" fill="#000"/>
<text x="480.0" y="552.69" font-size="4.8" font-family='"Liberation Sans","Noto Sans CJK SC",sans-serif' font-weight="bold" text-anchor="middle" fill="#fff" textLength="3" lengthAdjust="spacingAndGlyphs" stroke="#fff" stroke-width="0.9" paint-order="stroke">6</text>
<rect x="483" y="549.225" width="5" height="3.5650000000000004" fill="#000"/>
<rect x="489" y="549.225" width="12" height="3.5650000000000004" fill="#000"/>
<text x="489.2" y="552.69" font-size="4.6" font-family='"Liberation Sans","Noto Sans CJK SC",sans-serif' font-weight="bold" text-anchor="start" fill="#fff" textLength="8.6" lengthAdjust="spacingAndGlyphs" stroke="#fff" stroke-width="0.9" paint-order="stroke">Q235</text>
<rect x="502" y="549.225" width="6" height="3.5650000000000004" fill="#000"/>
<rect x="509" y="549.225" width="6" height="3.5650000000000004" fill="#000"/>
<rect x="516" y="549.225" width="7" height="3.5650000000000004" fill="#000"/>
<rect x="524" y="549.225" width="10" height="3.5650000000000004" fill="#000"/>
<text x="420.5" y="557.0550000000001" font-size="3.4" font-family='"Liberation Sans","Noto Sans CJK SC",sans-serif' font-weight="normal" text-anchor="middle" fill="#c4c4c4" >48</text>
<rect x="424" y="553.79" width="4" height="3.5650000000000004" fill="#000"/>
<rect x="429" y="553.79" width="11" height="3.5650000000000004" fill="#000"/>
<text x="429.2" y="557.255" font-size="4.6" font-family='"Liberation Sans","Noto Sans CJK SC",sans-serif' font-weight="bold" text-anchor="start" fill="#fff" textLength="7.9" lengthAdjust="spacingAndGlyphs" stroke="#fff" stroke-width="0.9" paint-order="stroke">ZG45</text>
<rect x="441" y="553.79" width="4" height="3.5650000000000004" fill="#000"/>
<rect x="446" y="553.79" width="20" height="3.5650000000000004" fill="#000"/>
<text x="446.2" y="557.255" font-size="4.8" font-family='"Liberation Sans","Noto Sans CJK SC",sans-serif' font-weight="bold" text-anchor="start" fill="#fff" textLength="15.6" lengthAdjust="spacingAndGlyphs" stroke="#fff" stroke-width="0.9" paint-order="stroke">压盖</text>
<rect x="467" y="553.79" width="10" height="3.5650000000000004" fill="#000"/>
<rect x="478" y="553.79" width="4" height="3.5650000000000004" fill="#000"/>
<text x="480.0" y="557.255" font-size="4.8" font-family='"Liberation Sans","Noto Sans CJK SC",sans-serif' font-weight="bold" text-anchor="middle" fill="#fff" textLength="3" lengthAdjust="spacingAndGlyphs" stroke="#fff" stroke-width="0.9" paint-order="stroke">2</text>
<rect x="483" y="553.79" width="5" height="3.5650000000000004" fill="#000"/>
<text x="483.2" y="557.255" font-size="4.6" font-family='"Liberation Sans","Noto Sans CJK SC",sans-serif' font-weight="bold" text-anchor="start" fill="#fff" textLength="4.5" lengthAdjust="spacingAndGlyphs" stroke="#fff" stroke-width="0.9" paint-order="stroke">XM-04</text>
<rect x="489" y="553.79" width="12" height="3.5650000000000004" fill="#000"/>
<text x="489.2" y="557.255" font-size="4.6" font-family='"Liberation Sans","Noto Sans CJK SC",sans-serif' font-weight="bold" text-anchor="start" fill="#fff" textLength="11.5" lengthAdjust="spacingAndGlyphs" stroke="#fff" stroke-width="0.9" paint-order="stroke">ZG45</text>
<rect x="502" y="553.79" width="6" height="3.5650000000000004" fill="#000"/>
<rect x="509" y="553.79" width="6" height="3.5650000000000004" fill="#000"/>
<rect x="516" y="553.79" width="7" height="3.5650000000000004" fill="#000"/>
<rect x="524" y="553.79" width="10" height="3.5650000000000004" fill="#000"/>
<text x="420.5" y="561.6200000000001" font-size="3.4" font-family='"Liberation Sans","Noto Sans CJK SC",sans-serif' font-weight="normal" text-anchor="middle" fill="#c4c4c4" >47</text>
<rect x="424" y="558.355" width="4" height="3.5650000000000004" fill="#000"/>
<rect x="429" y="558.355" width="11" height="3.5650000000000004" fill="#000"/>
<text x="429.2" y="561.82" font-size="4.6" font-family='"Liberation Sans","Noto Sans CJK SC",sans-serif' font-weight="bold" text-anchor="start" fill="#fff" textLength="7.9" lengthAdjust="spacingAndGlyphs" stroke="#fff" stroke-width="0.9" paint-order="stroke">45</text>
<rect x="441" y="558.355" width="4" height="3.5650000000000004" fill="#000"/>
<rect x="446" y="558.355" width="20" height="3.5650000000000004" fill="#000"/>
<rect x="467" y="558.355" width="10" height="3.5650000000000004" fill="#000"/>
<rect x="478" y="558.355" width="4" height="3.5650000000000004" fill="#000"/>
<text x="480.0" y="561.82" font-size="4.8" font-family='"Liberation Sans","Noto Sans CJK SC",sans-serif' font-weight="bold" text-anchor="middle" fill="#fff" textLength="3" lengthAdjust="spacingAndGlyphs" stroke="#fff" stroke-width="0.9" paint-order="stroke">1</text>
<rect x="483" y="558.355" width="5" height="3.5650000000000004" fill="#000"/>
<rect x="489" y="558.355" width="12" height="3.5650000000000004" fill="#000"/>
<text x="489.2" y="561.82" font-size="4.6" font-family='"Liberation Sans","Noto Sans CJK SC",sans-serif' font-weight="bold" text-anchor="start" fill="#fff" textLength="10.3" lengthAdjust="spacingAndGlyphs" stroke="#fff" stroke-width="0.9" paint-order="stroke">45</text>
<rect x="502" y="558.355" width="6" height="3.5650000000000004" fill="#000"/>
<rect x="509" y="558.355" width="6" height="3.5650000000000004" fill="#000"/>
<rect x="516" y="558.355" width="7" height="3.5650000000000004" fill="#000"/>
<rect x="524" y="558.355" width="10" height="3.5650000000000004" fill="#000"/>
<text x="420.5" y="566.1850000000001" font-size="3.4" font-family='"Liberation Sans","Noto Sans CJK SC",sans-serif' font-weight="normal" text-anchor="middle" fill="#c4c4c4" >46</text>
<rect x="424" y="562.92" width="4" height="3.5650000000000004" fill="#000"/>
<rect x="429" y="562.92" width="11" height="3.5650000000000004" fill="#000"/>
<text x="429.2" y="566.385" font-size="4.6" font-family='"Liberation Sans","Noto Sans CJK SC",sans-serif' font-weight="bold" text-anchor="start" fill="#fff" textLength="10.5" lengthAdjust="spacingAndGlyphs" stroke="#fff" stroke-width="0.9" paint-order="stroke">毛毡</text>
<rect x="441" y="562.92" width="4" height="3.5650000000000004" fill="#000"/>
<text x="441.2" y="566.385" font-size="4.6" font-family='"Liberation Sans","Noto Sans CJK SC",sans-serif' font-weight="bold" text-anchor="start" fill="#fff" textLength="2.1" lengthAdjust="spacingAndGlyphs" stroke="#fff" stroke-width="0.9" paint-order="stroke">XM-03</text>
<rect x="446" y="562.92" width="20" height="3.5650000000000004" fill="#000"/>
<text x="446.2" y="566.385" font-size="4.8" font-family='"Liberation Sans","Noto Sans CJK SC",sans-serif' font-weight="bold" text-anchor="start" fill="#fff" textLength="19.5" lengthAdjust="spacingAndGlyphs" stroke="#fff" stroke-width="0.9" paint-order="stroke">出料口</text>
<rect x="467" y="562.92" width="10" height="3.5650000000000004" fill="#000"/>
<rect x="478" y="562.92" width="4" height="3.5650000000000004" fill="#000"/>
<text x="480.0" y="566.385" font-size="4.8" font-family='"Liberation Sans","Noto Sans CJK SC",sans-serif' font-weight="bold" text-anchor="middle" fill="#fff" textLength="3" lengthAdjust="spacingAndGlyphs" stroke="#fff" stroke-width="0.9" paint-order="stroke">2</text>
<rect x="483" y="562.92" width="5" height="3.5650000000000004" fill="#000"/>
<text x="483.2" y="566.385" font-size="4.6" font-family='"Liberation Sans","Noto Sans CJK SC",sans-serif' font-weight="bold" text-anchor="start" fill="#fff" textLength="3.6" lengthAdjust="spacingAndGlyphs" stroke="#fff" stroke-width="0.9" paint-order="stroke">XM-03</text>
<rect x="489" y="562.92" width="12" height="3.5650000000000004" fill="#000"/>
<text x="489.2" y="566.385" font-size="4.6" font-family='"Liberation Sans","Noto Sans CJK SC",sans-serif' font-weight="bold" text-anchor="start" fill="#fff" textLength="11.5" lengthAdjust="spacingAndGlyphs" stroke="#fff" stroke-width="0.9" paint-order="stroke">毛毡</text>
<rect x="502" y="562.92" width="6" height="3.5650000000000004" fill="#000"/>
<rect x="509" y="562.92" width="6" height="3.5650000000000004" fill="#000"/>
<rect x="516" y="562.92" width="7" height="3.5650000000000004" fill="#000"/>
<rect x="524" y="562.92" width="10" height="3.5650000000000004" fill="#000"/>
<rect x="651" y="520.815" width="117" height="9.5" fill="#fff"/>
<rect x="652" y="521.815" width="115" height="7.6" fill="#000"/>
<text x="653" y="527.615" font-size="5.4" font-family='"Liberation Serif","Noto Serif CJK SC",serif' font-weight="bold" text-anchor="start" fill="#fff" textLength="7.5" lengthAdjust="spacingAndGlyphs" stroke="#fff" stroke-width="0.45">序号</text>
<text x="678" y="527.615" font-size="5.4" font-family='"Liberation Serif","Noto Serif CJK SC",serif' font-weight="bold" text-anchor="start" fill="#fff" textLength="9" lengthAdjust="spacingAndGlyphs" stroke="#fff" stroke-width="0.45">代号</text>
<text x="705.5" y="527.615" font-size="5.4" font-family='"Liberation Serif","Noto Serif CJK SC",serif' font-weight="bold" text-anchor="start" fill="#fff" textLength="13" lengthAdjust="spacingAndGlyphs" stroke="#fff" stroke-width="0.45">名称</text>
<text x="737" y="527.615" font-size="5.4" font-family='"Liberation Serif","Noto Serif CJK SC",serif' font-weight="bold" text-anchor="start" fill="#fff" textLength="21.5" lengthAdjust="spacingAndGlyphs" stroke="#fff" stroke-width="0.45">数量材料</text>
<text x="761.5" y="527.615" font-size="5.4" font-family='"Liberation Serif","Noto Serif CJK SC",serif' font-weight="bold" text-anchor="start" fill="#fff" textLength="5.5" lengthAdjust="spacingAndGlyphs" stroke="#fff" stroke-width="0.45">备注</text>
<rect x="651" y="530" width="117" height="37.5" fill="#000"/>
<rect x="651" y="530" width="116" height="37" fill="none" stroke="#fff" stroke-width="1" rx="0"/>
<line x1="651" y1="534.565" x2="704" y2="534.565" stroke="#fff" stroke-width="1" />
<line x1="651" y1="539.13" x2="704" y2="539.13" stroke="#fff" stroke-width="1" />
<line x1="651" y1="543.695" x2="704" y2="543.695" stroke="#fff" stroke-width="1" />
<line x1="651" y1="548.26" x2="704" y2="548.26" stroke="#fff" stroke-width="1" />
<line x1="651" y1="552.825" x2="704" y2="552.825" stroke="#fff" stroke-width="1" />
<line x1="651" y1="557.39" x2="704" y2="557.39" stroke="#fff" stroke-width="1" />
<line x1="651" y1="561.955" x2="704" y2="561.955" stroke="#fff" stroke-width="1" />
<line x1="651" y1="566.52" x2="704" y2="566.52" stroke="#fff" stroke-width="1" />
<line x1="657" y1="530" x2="657" y2="567" stroke="#fff" stroke-width="1" />
<line x1="664" y1="530" x2="664" y2="567" stroke="#fff" stroke-width="1" />
<line x1="670" y1="530" x2="670" y2="567" stroke="#fff" stroke-width="1" />
<line x1="680" y1="530" x2="680" y2="567" stroke="#fff" stroke-width="1" />
<line x1="687" y1="530" x2="687" y2="567" stroke="#fff" stroke-width="1" />
<line x1="694" y1="530" x2="694" y2="567" stroke="#fff" stroke-width="1" />
<line x1="704" y1="530" x2="704" y2="567" stroke="#fff" stroke-width="1" />
<text x="655" y="547.595" font-size="4.6" font-family='"Liberation Sans","Noto Sans CJK SC",sans-serif' font-weight="bold" text-anchor="start" fill="#fff" textLength="45" lengthAdjust="spacingAndGlyphs" stroke="#fff" stroke-width="0.9" paint-order="stroke">标记处数分区更改文件号签名年月</text>
<text x="655" y="552.16" font-size="4.6" font-family='"Liberation Sans","Noto Sans CJK SC",sans-serif' font-weight="bold" text-anchor="start" fill="#fff" textLength="37" lengthAdjust="spacingAndGlyphs" stroke="#fff" stroke-width="0.9" paint-order="stroke">设计　　标准化</text>
<text x="655" y="566.6" font-size="4.6" font-family='"Liberation Sans","Noto Sans CJK SC",sans-serif' font-weight="bold" text-anchor="start" fill="#fff" textLength="9" lengthAdjust="spacingAndGlyphs" stroke="#fff" stroke-width="0.9" paint-order="stroke">审核</text>
<text x="676" y="566.6" font-size="4.6" font-family='"Liberation Sans","Noto Sans CJK SC",sans-serif' font-weight="bold" text-anchor="start" fill="#fff" textLength="8" lengthAdjust="spacingAndGlyphs" stroke="#fff" stroke-width="0.9" paint-order="stroke">工艺</text>
<text x="692" y="566.6" font-size="4.6" font-family='"Liberation Sans","Noto Sans CJK SC",sans-serif' font-weight="bold" text-anchor="start" fill="#fff" textLength="8" lengthAdjust="spacingAndGlyphs" stroke="#fff" stroke-width="0.9" paint-order="stroke">批准</text>
<line x1="704" y1="549" x2="736" y2="549" stroke="#fff" stroke-width="1" />
<line x1="736" y1="530" x2="736" y2="567" stroke="#fff" stroke-width="1" />
<rect x="704.5" y="544" width="3" height="5" fill="none" stroke="#fff" stroke-width="1" rx="0"/>
<text x="708.5" y="554.8" font-size="4.6" font-family='"Liberation Sans","Noto Sans CJK SC",sans-serif' font-weight="bold" text-anchor="start" fill="#fff" textLength="26" lengthAdjust="spacingAndGlyphs" stroke="#fff" stroke-width="0.9" paint-order="stroke">阶段标记重量比例</text>
<line x1="704" y1="556" x2="767" y2="556" stroke="#fff" stroke-width="1" />
<line x1="704" y1="561" x2="736" y2="561" stroke="#fff" stroke-width="1" />
<line x1="706" y1="556" x2="706" y2="561" stroke="#fff" stroke-width="1" />
<line x1="710.5" y1="556" x2="710.5" y2="561" stroke="#fff" stroke-width="1" />
<line x1="714.5" y1="556" x2="714.5" y2="561" stroke="#fff" stroke-width="1" />
<line x1="718.5" y1="556" x2="718.5" y2="561" stroke="#fff" stroke-width="1" />
<line x1="723" y1="556" x2="723" y2="561" stroke="#fff" stroke-width="1" />
<line x1="727" y1="556" x2="727" y2="561" stroke="#fff" stroke-width="1" />
<text x="728.5" y="560.6" font-size="5" font-family='"Liberation Sans","Noto Sans CJK SC",sans-serif' font-weight="bold" text-anchor="start" fill="#fff" textLength="5" lengthAdjust="spacingAndGlyphs" stroke="#fff" stroke-width="0.9" paint-order="stroke">工</text>
<text x="711" y="566.3" font-size="4.6" font-family='"Liberation Sans","Noto Sans CJK SC",sans-serif' font-weight="bold" text-anchor="start" fill="#fff" textLength="4" lengthAdjust="spacingAndGlyphs" stroke="#fff" stroke-width="0.9" paint-order="stroke">共</text>
<text x="718" y="566.3" font-size="4.6" font-family='"Liberation Sans","Noto Sans CJK SC",sans-serif' font-weight="bold" text-anchor="start" fill="#fff" textLength="4" lengthAdjust="spacingAndGlyphs" stroke="#fff" stroke-width="0.9" paint-order="stroke">张</text>
<text x="726" y="566.3" font-size="4.6" font-family='"Liberation Sans","Noto Sans CJK SC",sans-serif' font-weight="bold" text-anchor="start" fill="#fff" textLength="4" lengthAdjust="spacingAndGlyphs" stroke="#fff" stroke-width="0.9" paint-order="stroke">第</text>
<text x="734" y="566.3" font-size="4.6" font-family='"Liberation Sans","Noto Sans CJK SC",sans-serif' font-weight="bold" text-anchor="start" fill="#fff" textLength="4" lengthAdjust="spacingAndGlyphs" stroke="#fff" stroke-width="0.9" paint-order="stroke">张</text>
<rect x="737" y="531" width="47" height="11" fill="#000"/>
<rect x="739" y="543.5" width="61" height="12" fill="#000"/>
<line x1="767" y1="531" x2="767" y2="556" stroke="#fff" stroke-width="1" />
<line x1="774" y1="531" x2="774" y2="556" stroke="#fff" stroke-width="1" />
<line x1="736" y1="542" x2="767" y2="542" stroke="#fff" stroke-width="1" />
<line x1="736" y1="556" x2="767" y2="556" stroke="#fff" stroke-width="1" />
<text x="736" y="541.2" font-size="12" font-family='"Liberation Serif","Noto Serif CJK SC",serif' font-weight="bold" text-anchor="start" fill="#fff" textLength="47" lengthAdjust="spacingAndGlyphs" >延边大学</text>
<text x="738.5" y="555" font-size="12" font-family='"Liberation Serif","Noto Serif CJK SC",serif' font-weight="bold" text-anchor="start" fill="#fff" textLength="61" lengthAdjust="spacingAndGlyphs" >小麦粉碎机</text>
</g>
</svg>
</body></html>
